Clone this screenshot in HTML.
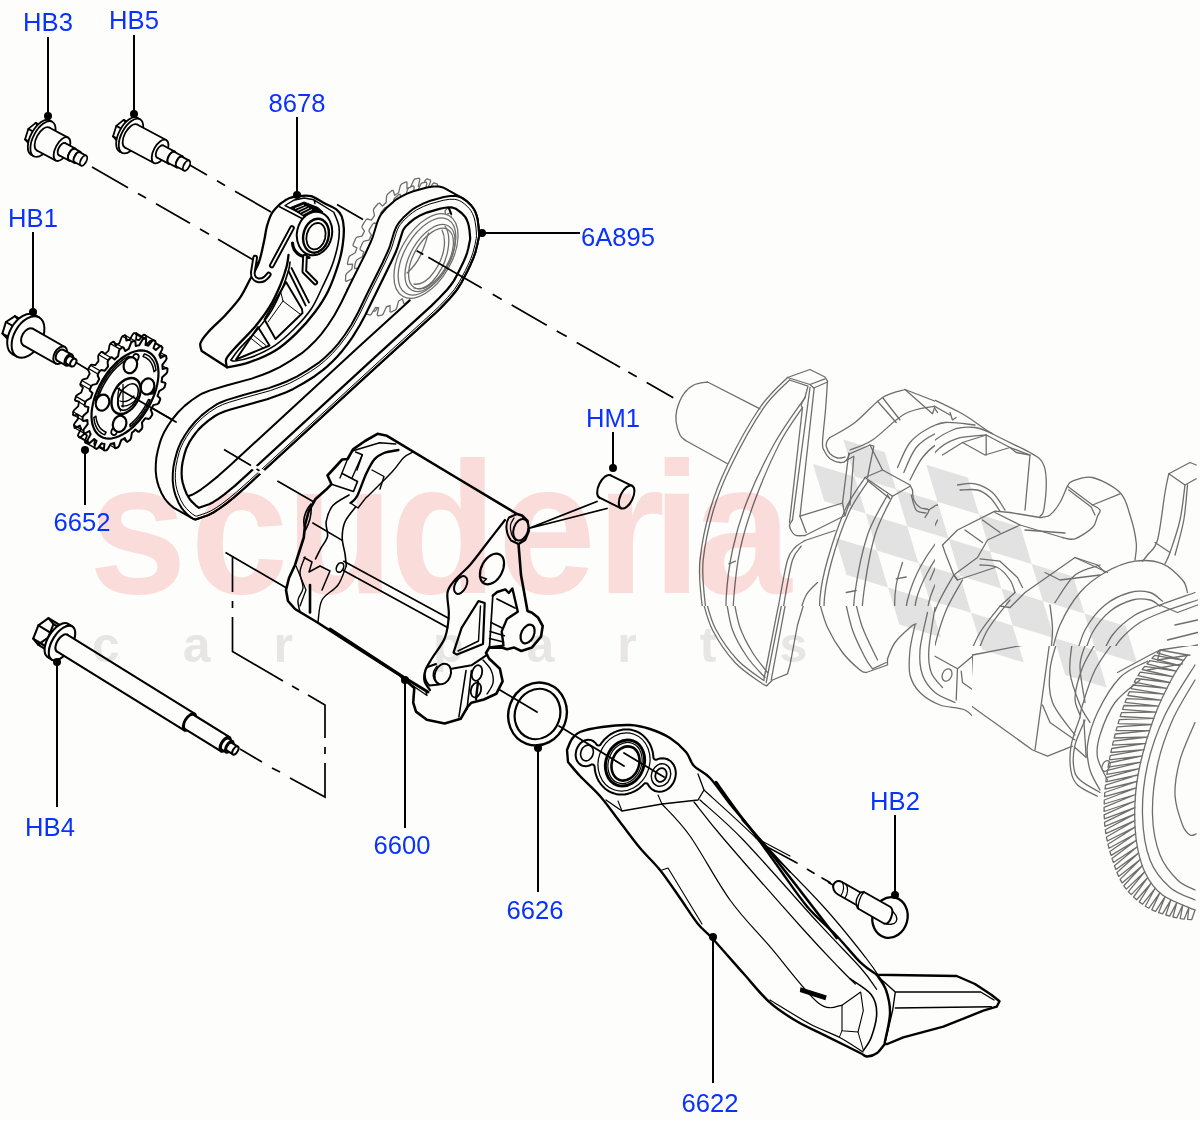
<!DOCTYPE html>
<html lang="en"><head><meta charset="utf-8"><title>Oil Pump</title>
<style>
html,body{margin:0;padding:0;background:#fdfdfb;}
body{width:1200px;height:1121px;overflow:hidden;position:relative;font-family:"Liberation Sans",Arial,sans-serif;}
svg{position:absolute;left:0;top:0;display:block;}
.lbl{font-family:"Liberation Sans",Arial,sans-serif;font-size:25.6px;fill:#0a32ff;text-anchor:middle;}
.k{fill:none;stroke:#000;stroke-linecap:round;stroke-linejoin:round;}
.kf{fill:#fdfdfb;stroke:#000;stroke-linecap:round;stroke-linejoin:round;}
.g{fill:none;stroke:#6e6e6e;stroke-width:1.3;stroke-linecap:round;stroke-linejoin:round;}
.gf{fill:#fdfdfb;stroke:#6e6e6e;stroke-width:1.3;stroke-linecap:round;stroke-linejoin:round;}
</style></head><body>
<svg width="1200" height="1121" viewBox="0 0 1200 1121">
<rect width="1200" height="1121" fill="#fdfdfb"/>
<!-- 05_flag.py -->
<g id="flag"><path d="M843.3 439.6L884.8 452.2L896 489.2L854.5 476.6ZM926.3 464.8L967.8 477.4L979 514.4L937.5 501.8ZM813 464L854.5 476.6L865.7 513.6L824.2 501ZM896 489.2L937.5 501.8L948.7 538.8L907.2 526.2ZM979 514.4L1020.5 527L1031.7 564L990.2 551.4ZM865.7 513.6L907.2 526.2L918.4 563.2L876.9 550.6ZM948.7 538.8L990.2 551.4L1001.4 588.4L959.9 575.8ZM1031.7 564L1073.2 576.6L1084.4 613.6L1042.9 601ZM835.4 538L876.9 550.6L888.1 587.6L846.6 575ZM918.4 563.2L959.9 575.8L971.1 612.8L929.6 600.2ZM1001.4 588.4L1042.9 601L1054.1 638L1012.6 625.4ZM1084.4 613.6L1125.9 626.2L1137.1 663.2L1095.6 650.6ZM888.1 587.6L929.6 600.2L940.8 637.2L899.3 624.6ZM971.1 612.8L1012.6 625.4L1023.8 662.4L982.3 649.8ZM1054.1 638L1095.6 650.6L1106.8 687.6L1065.3 675Z" fill="#e2e2e2" stroke="none"/></g>
<!-- 10_axes.py -->
<g id="axes" stroke="#000" stroke-width="1.7" fill="none" stroke-linecap="butt">
<path d="M92 167 L128 187.7 M138 193.4 L146 198 M156 203.7 L190 223.3 M200 229 L209 234.2 M218 239.3 L276.4 273.5"/>
<path d="M188 164 L207 175 M217 180.8 L225 185.4 M235 191.2 L271 212 M337 204.5 L363 219.5"/>
<path d="M72 360 L118 388 L176 422"/>
<path d="M225.5 552.5 L290 590 M232.5 557 L232.5 592 M232.5 601 L232.5 608 M232.5 617 L232.5 651.5 L283 681 M292 686 L299 690 M308 695 L325 705 L325 738 M325 747 L325 754 M325 763 L325 797 L290 778 M280 772 L272 768 M262 762 L240 749"/>
</g>
<!-- 15_topsprocket.py -->
<g id="topsprocket">
<path class="gf" d="M426.8 256.4 L425.5 258.9 L428 262.5 L427.7 264.3 L424.2 270 L422.8 271 L418.7 269.9 L417.1 272.2 L415.5 274.4 L416.6 279.7 L416 281.5 L411.8 286.5 L410.5 287 L407.5 283.9 L405.7 285.7 L403.9 287.5 L403.4 294 L402.5 295.8 L398 299.6 L396.8 299.5 L395.3 294.7 L393.4 296 L391.5 297.2 L389.6 304.4 L388.4 306 L383.9 308.2 L383 307.7 L383 301.5 L381.2 302.1 L379.5 302.7 L376.2 309.9 L374.8 311.2 L370.8 311.8 L370.2 310.7 L371.7 303.7 L370.1 303.6 L368.6 303.4 L364.3 310.2 L362.9 311.1 L359.6 309.9 L359.4 308.5 L362.3 301.2 L361.1 300.4 L360 299.5 L354.9 305.2 L353.6 305.6 L351.3 302.8 L351.5 301.1 L355.5 294.1 L354.8 292.7 L354.1 291.1 L348.7 295.4 L347.6 295.2 L346.5 291 L347.1 289.1 L352 283 L351.7 281.1 L351.6 279 L346.3 281.4 L345.5 280.7 L345.7 275.4 L346.6 273.6 L351.9 268.9 L352.2 266.5 L352.6 264.2 L347.8 264.5 L347.4 263.4 L348.8 257.4 L350 255.8 L355.3 252.8 L356.1 250.3 L357 247.8 L353.2 246 L353.1 244.5 L355.7 238.4 L357 237.1 L362 236.1 L363.2 233.6 L364.5 231.1 L362 227.5 L362.3 225.7 L365.8 220 L367.2 219 L371.3 220.1 L372.9 217.8 L374.5 215.6 L373.4 210.3 L374 208.5 L378.2 203.5 L379.5 203 L382.5 206.1 L384.3 204.3 L386.1 202.5 L386.6 196 L387.5 194.2 L392 190.4 L393.2 190.5 L394.7 195.3 L396.6 194 L398.5 192.8 L400.4 185.6 L401.6 184 L406.1 181.8 L407 182.3 L407 188.5 L408.8 187.9 L410.5 187.3 L413.8 180.1 L415.2 178.8 L419.2 178.2 L419.8 179.3 L418.3 186.3 L419.9 186.4 L421.4 186.6 L425.7 179.8 L427.1 178.9 L430.4 180.1 L430.6 181.5 L427.7 188.8 L428.9 189.6 L430 190.5 L435.1 184.8 L436.4 184.4 L438.7 187.2 L438.5 188.9 L434.5 195.9 L435.2 197.3 L435.9 198.9 L441.3 194.6 L442.4 194.8 L443.5 199 L442.9 200.9 L438 207 L438.3 208.9 L438.4 211 L443.7 208.6 L444.5 209.3 L444.3 214.6 L443.4 216.4 L438.1 221.1 L437.8 223.5 L437.4 225.8 L442.2 225.5 L442.6 226.6 L441.2 232.6 L440 234.2 L434.7 237.2 L433.9 239.7 L433 242.2 L436.8 244 L436.9 245.5 L434.3 251.6 L433 252.9 L428 253.9Z"/>
<path class="gf" d="M433.8 260.4 L432.5 262.9 L435 266.5 L434.7 268.3 L431.2 274 L429.8 275 L425.7 273.9 L424.1 276.2 L422.5 278.4 L423.6 283.7 L423 285.5 L418.8 290.5 L417.5 291 L414.5 287.9 L412.7 289.7 L410.9 291.5 L410.4 298 L409.5 299.8 L405 303.6 L403.8 303.5 L402.3 298.7 L400.4 300 L398.5 301.2 L396.6 308.4 L395.4 310 L390.9 312.2 L390 311.7 L390 305.5 L388.2 306.1 L386.5 306.7 L383.2 313.9 L381.8 315.2 L377.8 315.8 L377.2 314.7 L378.7 307.7 L377.1 307.6 L375.6 307.4 L371.3 314.2 L369.9 315.1 L366.6 313.9 L366.4 312.5 L369.3 305.2 L368.1 304.4 L367 303.5 L361.9 309.2 L360.6 309.6 L358.3 306.8 L358.5 305.1 L362.5 298.1 L361.8 296.7 L361.1 295.1 L355.7 299.4 L354.6 299.2 L353.5 295 L354.1 293.1 L359 287 L358.7 285.1 L358.6 283 L353.3 285.4 L352.5 284.7 L352.7 279.4 L353.6 277.6 L358.9 272.9 L359.2 270.5 L359.6 268.2 L354.8 268.5 L354.4 267.4 L355.8 261.4 L357 259.8 L362.3 256.8 L363.1 254.3 L364 251.8 L360.2 250 L360.1 248.5 L362.7 242.4 L364 241.1 L369 240.1 L370.2 237.6 L371.5 235.1 L369 231.5 L369.3 229.7 L372.8 224 L374.2 223 L378.3 224.1 L379.9 221.8 L381.5 219.6 L380.4 214.3 L381 212.5 L385.2 207.5 L386.5 207 L389.5 210.1 L391.3 208.3 L393.1 206.5 L393.6 200 L394.5 198.2 L399 194.4 L400.2 194.5 L401.7 199.3 L403.6 198 L405.5 196.8 L407.4 189.6 L408.6 188 L413.1 185.8 L414 186.3 L414 192.5 L415.8 191.9 L417.5 191.3 L420.8 184.1 L422.2 182.8 L426.2 182.2 L426.8 183.3 L425.3 190.3 L426.9 190.4 L428.4 190.6 L432.7 183.8 L434.1 182.9 L437.4 184.1 L437.6 185.5 L434.7 192.8 L435.9 193.6 L437 194.5 L442.1 188.8 L443.4 188.4 L445.7 191.2 L445.5 192.9 L441.5 199.9 L442.2 201.3 L442.9 202.9 L448.3 198.6 L449.4 198.8 L450.5 203 L449.9 204.9 L445 211 L445.3 212.9 L445.4 215 L450.7 212.6 L451.5 213.3 L451.3 218.6 L450.4 220.4 L445.1 225.1 L444.8 227.5 L444.4 229.8 L449.2 229.5 L449.6 230.6 L448.2 236.6 L447 238.2 L441.7 241.2 L440.9 243.7 L440 246.2 L443.8 248 L443.9 249.5 L441.3 255.6 L440 256.9 L435 257.9Z"/>
</g>
<!-- 20_crank.py -->
<g id="crank">
<defs><clipPath id="ckA"><rect x="0" y="0" width="935" height="606"/></clipPath><clipPath id="ckB"><rect x="935" y="0" width="265" height="646"/></clipPath><clipPath id="ckC"><rect x="0" y="606" width="972" height="600"/></clipPath><clipPath id="ckD"><rect x="972" y="646" width="228" height="600"/></clipPath></defs><g clip-path="url(#ckA)">
<path class="g" stroke-width="1.1" d="M707.5 382 L760 408.8" />
<path class="g" stroke-width="1.1" d="M707.5 382C705.2 382.5 697.7 383 693.8 385C689.8 387 686.6 389.6 683.8 393.8C680.9 397.9 678 405.2 676.8 410C675.5 414.8 675.7 418.3 676.2 422.5C676.8 426.7 678.5 432 680 435C681.5 438 684.6 439.6 685.5 440.5" />
<path class="g" stroke-width="1.1" d="M685.5 440.5 L727.5 463.8" />
<path class="g" stroke-width="1.1" d="M787.5 377.5C782.9 382.5 770 392.9 760 407.5C750 422.1 735.8 447.9 727.5 465C719.2 482.1 714.6 494.2 710 510C705.4 525.8 701.5 545.4 700 560C698.5 574.6 700 584.2 701.2 597.5C702.5 610.8 706.5 632.9 707.5 640" />
<path class="g" stroke-width="1.1" d="M789.5 380C785.1 384.8 772.8 394.4 763 408.8C753.2 423.1 739 449.2 730.8 466.2C722.5 483.2 717.8 495.1 713.2 510.8C708.7 526.4 704.7 545.5 703.2 560C701.8 574.5 703.2 584.2 704.5 597.5C705.8 610.8 709.7 632.9 710.8 640" />
<path class="g" stroke-width="1.1" d="M805 397.5C800 405 784.6 425.4 775 442.5C765.4 459.6 754.6 482.1 747.5 500C740.4 517.9 736 533.8 732.5 550C729 566.2 727.1 582.5 726.2 597.5C725.4 612.5 727.3 632.9 727.5 640" />
<path class="g" stroke-width="1.1" d="M802.5 407.5C798.8 413.3 787.9 427.1 780 442.5C772.1 457.9 761.7 482.1 755 500C748.3 517.9 743.5 533.8 740 550C736.5 566.2 735 582.5 733.8 597.5C732.5 612.5 732.7 632.9 732.5 640" />
<path class="g" stroke-width="1.1" d="M728.8 563.8 L735.5 561.2" />
<path class="g" stroke-width="1.1" d="M787.5 377.5 L810 369.5 L825 377 L827.5 381.2" />
<path class="g" stroke-width="1.1" d="M787.5 377.5 L810 384.5 L825 378.8" />
<path class="g" stroke-width="1.1" d="M789.5 380 L808 386.2 L805 397.5" />
<path class="g" stroke-width="1.1" d="M810 384.5 L813.8 388 L827.5 382" />
<path class="g" stroke-width="1.1" d="M805 397.5C804.4 398.8 801.7 403.3 801.2 405C800.8 406.7 802.3 407.1 802.5 407.5" />
<path class="g" stroke-width="1.1" d="M827.5 381.2C827.2 386 826.3 399.8 825.5 410C824.7 420.2 822.7 435.6 822.5 442.5C822.3 449.4 823.2 448.5 824.5 451.2C825.8 454 827.4 456.9 830 458.8C832.6 460.6 837.3 462.2 840 462.5C842.7 462.8 844.7 462 846.2 460.5C847.8 459 849 454.9 849.5 453.8" />
<path class="g" stroke-width="1.1" d="M830 437.5C829.5 438.1 827.6 439.8 827 441.2C826.4 442.7 825.8 444.2 826.2 446.2C826.8 448.3 828.1 451.8 830 453.8C831.9 455.7 835 457.5 837.5 458C840 458.5 843.8 457.2 845 457" />
<path class="g" stroke-width="1.1" d="M810 387.5 L792.5 520" />
<path class="g" stroke-width="1.1" d="M814.2 388 L800 516.2" />
<path class="g" stroke-width="1.1" d="M802.5 407.5 L789.5 522.5" />
<path class="g" stroke-width="1.1" d="M792.5 520C792 521 789.1 523.8 789.5 526.2C789.9 528.8 792.4 533.5 795 535C797.6 536.5 803.3 535.4 805 535.5" />
<path class="g" stroke-width="1.1" d="M805 535.5 L845 515.5" />
<path class="g" stroke-width="1.1" d="M800 516.2 L842.5 503 L848.8 453" />
<path class="g" stroke-width="1.1" d="M845 515.5 L842.5 503" />
<path class="g" stroke-width="1.1" d="M800 516.2 L806.2 532.5" />
<path class="g" stroke-width="1.1" d="M845 515.5 L850.5 500" />
<path class="g" stroke-width="1.1" d="M805 540.5 L835 530.5" />
<path class="g" stroke-width="1.1" d="M805 540.5C803.3 541.7 797.9 544.2 795 547.5C792.1 550.8 790 551.7 787.5 560C785 568.3 782.5 584.2 780 597.5C777.5 610.8 773.8 632.9 772.5 640" />
<path class="g" stroke-width="1.1" d="M801.2 546.2C799.8 548.5 795.2 551.5 792.5 560C789.8 568.5 787.3 584.2 785 597.5C782.7 610.8 779.8 632.9 778.8 640" />
<path class="g" stroke-width="1.1" d="M849.5 453.8 L870 445 L873.8 446.2 L867.5 477.5" />
<path class="g" stroke-width="1.1" d="M846.2 460.5 L853.8 456.2 L850 505" />
<path class="g" stroke-width="1.1" d="M865 477.5 L882.5 470 L910 485 L912.5 490" />
<path class="g" stroke-width="1.1" d="M865 477.5 L892.5 496.2 L910 486.2" />
<path class="g" stroke-width="1.1" d="M867.5 480.5 L890 498.8 L887.5 495" />
<path class="g" stroke-width="1.1" d="M865 477.5C861.7 482.9 851.2 496.2 845 510C838.8 523.8 831.7 545.4 827.5 560C823.3 574.6 821.2 584.2 820 597.5C818.8 610.8 820 632.9 820 640" />
<path class="g" stroke-width="1.1" d="M868 481.2C864.8 486.5 854.8 499.4 848.8 512.5C842.8 525.6 836 545.8 832 560C828 574.2 825.8 584.2 824.5 597.5C823.2 610.8 824.5 632.9 824.5 640" />
<path class="g" stroke-width="1.1" d="M887.5 495C884.2 501.7 872.9 518.8 867.5 535C862.1 551.2 857.5 575 855 592.5C852.5 610 852.9 632.1 852.5 640" />
<path class="g" stroke-width="1.1" d="M892.5 496.2C889.6 502.7 879.8 519 875 535C870.2 551 866.2 575 863.8 592.5C861.3 610 861 632.1 860.5 640" />
<path class="g" stroke-width="1.1" d="M846.2 592.5 L856.2 590.5" />
<path class="g" stroke-width="1.1" d="M817.5 582.5C815.6 584.6 809.2 589.6 806.2 595C803.3 600.4 801.2 607.5 800 615C798.8 622.5 799 635.8 798.8 640" />
<path class="g" stroke-width="1.1" d="M912.5 490C912.7 491.7 912.5 497.1 913.8 500C915 502.9 917.5 505.8 920 507.5C922.5 509.2 927.9 508.3 928.8 510C929.6 511.7 925.6 516.2 925 517.5" />
<path class="g" stroke-width="1.1" d="M911.2 495C912.1 497.5 913.8 507 916.2 510C918.8 513 924.6 512.5 926.2 513" />
<path class="g" stroke-width="1.1" d="M928.8 510 L940 502.5 L970 490" />
<path class="g" stroke-width="1.1" d="M830 437.5C834.2 435 846.2 429.2 855 422.5C863.8 415.8 874.2 403 882.5 397.5C890.8 392 901.2 390.8 905 389.5" />
<path class="g" stroke-width="1.1" d="M905 389.5 L945 405 L970 413.8" />
<path class="g" stroke-width="1.1" d="M850 450C853.8 448.3 863.3 446 872.5 440C881.7 434 894.6 419.4 905 413.8C915.4 408.1 930 407.5 935 406.2" />
<path class="g" stroke-width="1.1" d="M935 406.2 L970 420" />
<path class="g" stroke-width="1.1" d="M882.5 397.5 L900 420" />
<path class="g" stroke-width="1.1" d="M877.5 401.2 L896.2 422.5" />
<path class="g" stroke-width="1.1" d="M905 389.5 L932.5 413.8 L935 406.2" />
<path class="g" stroke-width="1.1" d="M870 445 L882.5 470" />
<path class="g" stroke-width="1.1" d="M897.5 467.5C899.6 463.3 904.6 449.2 910 442.5C915.4 435.8 922.9 431.2 930 427.5C937.1 423.8 945.8 421.5 952.5 420C959.2 418.5 967.1 419 970 418.8" />
<path class="g" stroke-width="1.1" d="M903.8 472.5C905.8 468.3 911 454 916.2 447.5C921.5 441 928.1 437.3 935 433.8C941.9 430.2 951.7 427.6 957.5 426.2C963.3 424.9 967.9 425.6 970 425.5" />
<path class="g" stroke-width="1.1" d="M910 480C912.1 476.2 917.5 463.8 922.5 457.5C927.5 451.2 932.1 446.2 940 442.5C947.9 438.8 965 436.2 970 435" />
<path class="g" stroke-width="1.1" d="M970 510C965.4 514.2 950.8 525.4 942.5 535C934.2 544.6 925.8 556.7 920 567.5C914.2 578.3 909.8 590.8 907.5 600C905.2 609.2 905.8 615.8 906.2 622.5C906.7 629.2 909.4 637.1 910 640" />
<path class="g" stroke-width="1.1" d="M970 520C966.2 523.8 954.6 533.8 947.5 542.5C940.4 551.2 932.7 562.9 927.5 572.5C922.3 582.1 918.3 591.2 916.2 600C914.2 608.8 914.4 618.3 915 625C915.6 631.7 919.2 637.5 920 640" />
<path class="g" stroke-width="1.1" d="M970 535C967.1 538.3 958.3 546.7 952.5 555C946.7 563.3 939.2 575.8 935 585C930.8 594.2 928.5 600.8 927.5 610C926.5 619.2 928.5 635 928.8 640" />
<path class="g" stroke-width="1.1" d="M902.5 562.5C901.5 566.2 897.5 577.1 896.2 585C895 592.9 894.2 602.5 895 610C895.8 617.5 900.2 626.7 901.2 630" />
<path class="g" stroke-width="1.1" d="M896.2 578.8 L906.2 577" />
<path class="g" stroke-width="1.1" d="M945 545 L970 522.5" />
<path class="g" stroke-width="1.1" d="M945 545 L930 580" />
<path class="g" stroke-width="1.1" d="M953.8 577.5 L970 565" />
</g><g clip-path="url(#ckB)">
<path class="g" stroke-width="1.1" d="M900 391.2C901.7 391 900 386 910 389.5C920 393 946.2 405.1 960 412.5C973.8 419.9 980.8 427.1 992.5 433.8C1004.2 440.4 1021.7 447.7 1030 452.5C1038.3 457.3 1039.8 457.9 1042.5 462.5C1045.2 467.1 1046 472.1 1046.2 480C1046.5 487.9 1044.8 504 1043.8 510C1042.7 516 1040.6 515.2 1040 516.2" />
<path class="g" stroke-width="1.1" d="M900 412.5 L932.5 405 L950 415" />
<path class="g" stroke-width="1.1" d="M925 395 L932.5 405 L937.5 412.5" />
<path class="g" stroke-width="1.1" d="M950 412.5 L952.5 420 L956.2 417.5" />
<path class="g" stroke-width="1.1" d="M900 462.5C901.7 459.2 905.8 447.9 910 442.5C914.2 437.1 919.2 433.3 925 430C930.8 426.7 936.7 423.3 945 422.5C953.3 421.7 970 424.6 975 425" />
<path class="g" stroke-width="1.1" d="M911.2 480C914 474.6 920.6 455.8 927.5 447.5C934.4 439.2 944.6 433.3 952.5 430C960.4 426.7 968.3 426.9 975 427.5C981.7 428.1 989.6 432.7 992.5 433.8" />
<path class="g" stroke-width="1.1" d="M921.2 477.5C923.5 473.3 929.2 459 935 452.5C940.8 446 947.7 441.7 956.2 438.8C964.8 435.8 981.2 435.6 986.2 435" />
<path class="g" stroke-width="1.1" d="M942.5 455 L962.5 442.5 L986.2 435 L1010 447.5 L1030 455 L1025 510" />
<path class="g" stroke-width="1.1" d="M962.5 442.5 L985 455 L1010 447.5" />
<path class="g" stroke-width="1.1" d="M986.2 435 L986.2 455" />
<path class="g" stroke-width="1.1" d="M1010 447.5 L1016.2 452.5 L1030 455" />
<path class="g" stroke-width="1.1" d="M957.5 485C960.4 484.8 969.2 482.5 975 483.8C980.8 485 987.5 488.1 992.5 492.5C997.5 496.9 1002.9 507.1 1005 510" />
<path class="g" stroke-width="1.1" d="M960 490C962.9 490 972.5 488.8 977.5 490C982.5 491.2 986.2 494 990 497.5C993.8 501 998.3 509 1000 511.2" />
<path class="g" stroke-width="1.1" d="M900 480C901.2 480.8 905.4 482.1 907.5 485C909.6 487.9 910 493.8 912.5 497.5C915 501.2 918.3 506.2 922.5 507.5C926.7 508.8 935 505.4 937.5 505" />
<path class="g" stroke-width="1.1" d="M900 487.5C901.7 490.4 905.8 500.8 910 505C914.2 509.2 922.5 511.2 925 512.5" />
<path class="g" stroke-width="1.1" d="M1040 517.5C1041.7 517.1 1046.7 517.5 1050 515C1053.3 512.5 1057.1 507.3 1060 502.5C1062.9 497.7 1065.4 489.8 1067.5 486.2C1069.6 482.7 1068.3 482.7 1072.5 481.2C1076.7 479.8 1084.6 475.6 1092.5 477.5C1100.4 479.4 1113.8 486.2 1120 492.5C1126.2 498.8 1127.3 506.7 1130 515C1132.7 523.3 1135.4 535 1136.2 542.5C1137.1 550 1135.2 557.1 1135 560" />
<path class="g" stroke-width="1.1" d="M1067.5 486.2 L1092.5 505 L1120 493.8" />
<path class="g" stroke-width="1.1" d="M1092.5 505C1093.8 505.8 1099.2 508.1 1100 510C1100.8 511.9 1098.8 513.3 1097.5 516.2C1096.2 519.2 1096.2 523.8 1092.5 527.5C1088.8 531.2 1080 537.1 1075 538.8C1070 540.4 1064.6 537.7 1062.5 537.5" />
<path class="g" stroke-width="1.1" d="M1068.8 490 L1091.2 507 L1095 515" />
<path class="g" stroke-width="1.1" d="M1040 517.5 L1010 512.5 L995 511.2 L957.5 530 L942.5 545" />
<path class="g" stroke-width="1.1" d="M1020 525 L1062.5 537.5" />
<path class="g" stroke-width="1.1" d="M1025 530 L1065 533" />
<path class="g" stroke-width="1.1" d="M995 512.5 L1020 525 L987.5 540 L977.5 557.5 L953.8 575 L957.5 580 L995 567.5" />
<path class="g" stroke-width="1.1" d="M942.5 545 L945 552.5 L953.8 575" />
<path class="g" stroke-width="1.1" d="M965 530 L982.5 542.5" />
<path class="g" stroke-width="1.1" d="M982.5 520 L1000 532.5" />
<path class="g" stroke-width="1.1" d="M1168.8 473.8 L1190 462.5 L1196.2 465" />
<path class="g" stroke-width="1.1" d="M1168.8 473.8 L1185 485 L1196.2 478.8" />
<path class="g" stroke-width="1.1" d="M1168.8 473.8C1168.1 476.9 1166.9 481.5 1165 492.5C1163.1 503.5 1160.4 529.6 1157.5 540C1154.6 550.4 1150 551.5 1147.5 555C1145 558.5 1143.3 560.2 1142.5 561.2" />
<path class="g" stroke-width="1.1" d="M1185 485C1184.2 490.8 1182.5 508.8 1180 520C1177.5 531.2 1172.5 545.2 1170 552.5C1167.5 559.8 1165.8 561.9 1165 563.8" />
<path class="g" stroke-width="1.1" d="M1155 542.5 L1170 552.5" />
<path class="g" stroke-width="1.1" d="M1187.5 485C1186.9 490.8 1185.8 508.3 1183.8 520C1181.7 531.7 1176.5 549.2 1175 555" />
<path class="g" stroke-width="1.1" d="M1050 660C1051.7 654.2 1055 636.2 1060 625C1065 613.8 1072.5 601.2 1080 592.5C1087.5 583.8 1095.8 577.7 1105 572.5C1114.2 567.3 1125.4 562.7 1135 561.2C1144.6 559.8 1154.6 560.6 1162.5 563.8C1170.4 566.9 1178.3 575.2 1182.5 580C1186.7 584.8 1186.7 590.4 1187.5 592.5" />
<path class="g" stroke-width="1.1" d="M1075 660C1076.7 655 1080 639.2 1085 630C1090 620.8 1097.5 611.2 1105 605C1112.5 598.8 1122.5 594.6 1130 592.5C1137.5 590.4 1144.6 591 1150 592.5C1155.4 594 1160.4 599.8 1162.5 601.2" />
<path class="g" stroke-width="1.1" d="M1082.5 660C1084.2 655.4 1087.9 640.6 1092.5 632.5C1097.1 624.4 1103.3 616.7 1110 611.2C1116.7 605.8 1125.8 601.9 1132.5 600C1139.2 598.1 1145.4 599 1150 600C1154.6 601 1158.3 605.2 1160 606.2" />
<path class="g" stroke-width="1.1" d="M1100 660C1102.1 655.8 1106.7 642.5 1112.5 635C1118.3 627.5 1127.1 620 1135 615C1142.9 610 1150 608.8 1160 605C1170 601.2 1189.2 594.6 1195 592.5" />
<path class="g" stroke-width="1.1" d="M1107.5 660C1109.6 656.7 1114.6 646.2 1120 640C1125.4 633.8 1132.5 627.3 1140 622.5C1147.5 617.7 1155.4 615 1165 611.2C1174.6 607.5 1192.1 601.9 1197.5 600" />
<path class="g" stroke-width="1.1" d="M1160 605 L1177.5 612.5 L1197.5 605" />
<path class="g" stroke-width="1.1" d="M1175 625 L1197.5 620" />
<path class="g" stroke-width="1.1" d="M1167.5 640 L1197.5 632.5" />
<path class="g" stroke-width="1.1" d="M1162.5 652.5 L1197.5 645" />
<path class="g" stroke-width="1.1" d="M925 515C922.5 521.7 913.3 542.1 910 555C906.7 567.9 904.2 582.1 905 592.5C905.8 602.9 913.3 613.3 915 617.5" />
<path class="g" stroke-width="1.1" d="M937.5 520C935 525.8 925.8 542.9 922.5 555C919.2 567.1 917.9 580 917.5 592.5C917.1 605 918.8 619.6 920 630C921.2 640.4 924.2 650.8 925 655" />
<path class="g" stroke-width="1.1" d="M953.8 575C951 580 942.3 593.8 937.5 605C932.7 616.2 927.3 633.3 925 642.5C922.7 651.7 924 657.1 923.8 660" />
<path class="g" stroke-width="1.1" d="M962.5 580C959.8 585 950.8 599.2 946.2 610C941.7 620.8 937.1 636.7 935 645C932.9 653.3 934 657.5 933.8 660" />
<path class="g" stroke-width="1.1" d="M1010 600C1006.2 605 993.3 620 987.5 630C981.7 640 977.1 655 975 660" />
<path class="g" stroke-width="1.1" d="M1000 606.2C996.7 610.6 985.4 623.5 980 632.5C974.6 641.5 969.6 655.4 967.5 660" />
<path class="g" stroke-width="1.1" d="M980 558.8 L1000 561.2 L1017.5 577.5 L1022.5 587.5" />
<path class="g" stroke-width="1.1" d="M980 565C982.9 565.4 992.5 565 997.5 567.5C1002.5 570 1007.1 575.8 1010 580C1012.9 584.2 1014.2 590.4 1015 592.5" />
<path class="g" stroke-width="1.1" d="M1015 592.5 L1000 606.2 L1010 607.5 L1025 592.5 L1075 557.5 L1107.5 572.5" />
<path class="g" stroke-width="1.1" d="M1045 572.5 L1060 580 L1100 575" />
<path class="g" stroke-width="1.1" d="M1075 557.5 L1097.5 565 L1105 572.5" />
<path class="g" stroke-width="1.1" d="M1050 605C1050.4 609.2 1052.5 620.8 1052.5 630C1052.5 639.2 1050.4 655 1050 660" />
<path class="g" stroke-width="1.1" d="M1055 602.5C1058.3 597.9 1067.5 581.2 1075 575C1082.5 568.8 1095.8 566.7 1100 565" />
<path class="g" stroke-width="1.1" d="M957.5 580 L953.8 575" />
</g><g clip-path="url(#ckC)">
<path class="g" stroke-width="1.1" d="M702.5 600C704.2 605 707.1 619.6 712.5 630C717.9 640.4 726.7 653.5 735 662.5C743.3 671.5 757.1 680 762.5 683.8C767.9 687.5 766.7 684.8 767.5 685" />
<path class="g" stroke-width="1.1" d="M705.8 600C707.4 604.8 710.2 618.8 715.5 628.8C720.8 638.8 729.5 651.4 737.5 660C745.5 668.6 759.4 677.1 763.8 680.5" />
<path class="g" stroke-width="1.1" d="M767.5 685 L772.5 680 L787.5 673.8 L790 665 L797.5 625 L805 600" />
<path class="g" stroke-width="1.1" d="M726.2 600C727.3 605 729 620.4 732.5 630C736 639.6 742.1 649.6 747.5 657.5C752.9 665.4 762.1 674.2 765 677.5" />
<path class="g" stroke-width="1.1" d="M733.8 600C734.8 604.6 736.9 618.8 740 627.5C743.1 636.2 747.9 645 752.5 652.5C757.1 660 765 669.2 767.5 672.5" />
<path class="g" stroke-width="1.1" d="M782.5 600 L766.2 682.5" />
<path class="g" stroke-width="1.1" d="M779.5 600 L763.8 680" />
<path class="g" stroke-width="1.1" d="M786.2 600 L771.2 680" />
<path class="g" stroke-width="1.1" d="M818.8 600C820.2 604.6 823.5 618.8 827.5 627.5C831.5 636.2 837.1 645.4 842.5 652.5C847.9 659.6 856 666.7 860 670C864 673.3 865.2 672.1 866.2 672.5" />
<path class="g" stroke-width="1.1" d="M866.2 672.5 L887.5 665 L887.5 658.8" />
<path class="g" stroke-width="1.1" d="M887.5 658.8C888.8 656 891.2 647.7 895 642.5C898.8 637.3 906.5 630.6 910 627.5C913.5 624.4 915.2 624.4 916.2 623.8" />
<path class="g" stroke-width="1.1" d="M845 600C846.2 605 849.2 620.4 852.5 630C855.8 639.6 861.7 651 865 657.5C868.3 664 871.2 666.9 872.5 668.8" />
<path class="g" stroke-width="1.1" d="M855 600C856.2 604.6 858.8 617.5 862.5 627.5C866.2 637.5 875 654.6 877.5 660" />
<path class="g" stroke-width="1.1" d="M872.5 668.8 L886.2 662.5" />
<path class="g" stroke-width="1.1" d="M915 625C914.2 629.2 910.8 641.7 910 650C909.2 658.3 908.3 667.9 910 675C911.7 682.1 915 687.5 920 692.5C925 697.5 932.5 702.1 940 705C947.5 707.9 958.3 706.7 965 710C971.7 713.3 977.5 722.5 980 725" />
<path class="g" stroke-width="1.1" d="M927.5 612.5C926.2 618.8 920.8 639.6 920 650C919.2 660.4 920 667.9 922.5 675C925 682.1 929.6 687.9 935 692.5C940.4 697.1 951.7 700.8 955 702.5" />
<path class="g" stroke-width="1.1" d="M935 607.5C934 614.6 929.4 639.2 928.8 650C928.1 660.8 929 666.2 931.2 672.5C933.5 678.8 940.6 685 942.5 687.5" />
<ellipse class="g" stroke-width="1.1" cx="947" cy="675" rx="4.6" ry="6.4" transform="rotate(25 947 675)" />
<path class="g" stroke-width="1.1" d="M935 656.2 L957.5 668.8 L956.2 700" />
<path class="g" stroke-width="1.1" d="M957.5 668.8 L980 650" />
<path class="g" stroke-width="1.1" d="M961.2 671.2 L962.5 682.5 L980 695" />
</g><g clip-path="url(#ckD)">
<path class="g" stroke-width="1.1" d="M1187.5 655C1185 658.8 1177.9 667.5 1172.5 677.5C1167.1 687.5 1160.4 700.4 1155 715C1149.6 729.6 1143.3 750.4 1140 765C1136.7 779.6 1135.6 790 1135 802.5C1134.4 815 1134.6 828.3 1136.2 840C1137.9 851.7 1140.6 863.3 1145 872.5C1149.4 881.7 1154.2 888.8 1162.5 895C1170.8 901.2 1189.6 907.5 1195 910" />
<path class="g" stroke-width="1.1" d="M1195 665C1190 673.3 1172.9 698.3 1165 715C1157.1 731.7 1151.2 748.3 1147.5 765C1143.8 781.7 1142.1 799.2 1142.5 815C1142.9 830.8 1145.4 847.9 1150 860C1154.6 872.1 1162.5 880.8 1170 887.5C1177.5 894.2 1190.8 897.9 1195 900" />
<path class="g" stroke-width="1.1" d="M1195 680C1191.2 686.7 1178.8 705.8 1172.5 720C1166.2 734.2 1160.8 749.2 1157.5 765C1154.2 780.8 1152.1 800 1152.5 815C1152.9 830 1155.8 844.2 1160 855C1164.2 865.8 1171.7 874.2 1177.5 880C1183.3 885.8 1192.1 888.3 1195 890" />
<path class="g" stroke-width="1.1" d="M1195 722.5C1192.5 728.8 1183.3 747.9 1180 760C1176.7 772.1 1174.6 784.2 1175 795C1175.4 805.8 1180 818.3 1182.5 825C1185 831.7 1187.7 833.5 1190 835C1192.3 836.5 1195.2 834 1196.2 833.8" />
<path class="g" stroke-width="1" d="M1187.5 655L1160 650L1157.2 652.9L1183.7 660.3M1183.7 660.3L1154.8 655.4L1152 658.3L1179.9 665.6M1179.9 665.6L1149.7 660.7L1147 663.8L1176.3 671.1M1176.3 671.1L1144.7 666.3L1142.2 669.5L1172.9 676.7M1172.9 676.7L1140.2 672.2L1138 675.7L1169.8 682.5M1169.8 682.5L1136.3 678.5L1134.3 682.1L1166.8 688.3M1166.8 688.3L1132.7 685L1130.9 688.7L1163.9 694.2M1163.9 694.2L1129.4 691.7L1127.8 695.5L1161.1 700.1M1161.1 700.1L1126.5 698.6L1125.1 702.4L1158.5 706.1M1158.5 706.1L1123.9 705.5L1122.6 709.4L1156.1 712.2M1156.1 712.2L1121.5 712.6L1120.2 716.5L1153.8 718.3M1153.8 718.3L1119.2 719.7L1118.1 723.6L1151.6 724.5M1151.6 724.5L1117.1 726.8L1116.1 730.7L1149.6 730.7M1149.6 730.7L1115.2 734L1114.2 738L1147.6 737M1147.6 737L1113.4 741.2L1112.5 745.2L1145.8 743.3M1145.8 743.3L1111.7 748.5L1110.9 752.5L1144 749.6M1144 749.6L1110.2 755.7L1109.4 759.8L1142.3 755.9M1142.3 755.9L1108.8 763L1108.1 767.1L1140.7 762.2M1140.7 762.2L1107.5 770.4L1106.9 774.4L1139.2 768.6M1139.2 768.6L1106.4 777.7L1105.9 781.8L1137.9 775M1137.9 775L1105.5 785.1L1105.1 789.2L1136.9 781.5M1136.9 781.5L1104.8 792.5L1104.5 796.6L1136.1 788M1136.1 788L1104.3 800L1104.2 804L1135.5 794.5M1135.5 794.5L1104.1 807.4L1104.1 811.5L1135.1 801M1135.1 801L1104.1 814.8L1104.4 818.9L1134.8 807.6M1134.8 807.6L1104.5 822.3L1104.9 826.3L1134.7 814.1M1134.7 814.1L1105.3 829.7L1105.9 833.7L1134.7 820.7M1134.7 820.7L1106.4 837L1107.3 841L1135 827.2M1135 827.2L1108 844.3L1109 848.3L1135.5 833.8M1135.5 833.8L1109.9 851.5L1111.1 855.4L1136.3 840.3M1136.3 840.3L1112 858.6L1113.4 862.5L1137.3 846.7M1137.3 846.7L1114.4 865.7L1115.9 869.5L1138.6 853.1M1138.6 853.1L1117 872.6L1118.7 876.4L1140.2 859.5M1140.2 859.5L1120.1 879.4L1122.1 882.9L1142.2 865.7M1142.2 865.7L1123.8 885.8L1126.3 889.1L1144.7 871.8M1144.7 871.8L1128.4 891.7L1131.3 894.6L1147.6 877.6M1147.6 877.6L1133.6 897L1136.7 899.7L1151.1 883.2M1151.1 883.2L1139.3 901.9L1142.6 904.2L1155.1 888.3M1155.1 888.3L1145.3 906.2L1148.9 908.2L1159.8 892.9M1159.8 892.9L1151.8 909.8L1155.6 911.4L1165.1 896.7M1165.1 896.7L1158.7 912.6L1162.6 913.9L1170.9 899.9M1170.9 899.9L1165.8 915L1169.7 916.1L1176.8 902.6M1176.8 902.6L1172.9 917L1176.9 917.8L1182.8 905.1M1182.8 905.1L1180.2 918.6L1184.3 919.1L1188.9 907.5M1188.9 907.5L1187.6 919.4L1191.7 919.7L1195 910" />
<path class="g" stroke-width="1.1" d="M1147.5 661.2C1142.9 664 1128.3 669 1120 677.5C1111.7 686 1102.9 701.2 1097.5 712.5C1092.1 723.8 1088.8 735.4 1087.5 745C1086.2 754.6 1087.9 762.5 1090 770C1092.1 777.5 1098.3 786.7 1100 790" />
<path class="g" stroke-width="1.1" d="M1140 680C1135.8 683.8 1121.7 693.3 1115 702.5C1108.3 711.7 1102.9 725.8 1100 735C1097.1 744.2 1096.2 750 1097.5 757.5C1098.8 765 1105.8 776.2 1107.5 780" />
<path class="g" stroke-width="1.1" d="M1085 720C1083.3 724.2 1076.9 737.1 1075 745C1073.1 752.9 1072.9 761.7 1073.8 767.5C1074.6 773.3 1075.6 775.8 1080 780C1084.4 784.2 1096.7 790.4 1100 792.5" />
<path class="g" stroke-width="1.1" d="M1080 717.5C1078.5 722.1 1072.8 736.2 1071.2 745C1069.7 753.8 1069.7 763.3 1070.8 770C1071.8 776.7 1073 780.6 1077.5 785C1082 789.4 1094.2 794.4 1097.5 796.2" />
<path class="g" stroke-width="1.1" d="M1075 747.5 L1086.2 757.5 L1083.8 720" />
<ellipse class="g" stroke-width="1.1" cx="1106" cy="766" rx="3.6" ry="5.6" transform="rotate(25 1106 766)" />
<path class="g" stroke-width="1.1" d="M1117.5 672.5 L1150 655 L1160 650 L1192.5 645" />
<path class="g" stroke-width="1.1" d="M1160 651.2 L1157.5 660 L1190 655" />
<path class="g" stroke-width="1.1" d="M1147.5 670 L1182.5 663.8" />
<path class="g" stroke-width="1.1" d="M1115 640C1111.7 645 1100.4 659.2 1095 670C1089.6 680.8 1085 697.1 1082.5 705C1080 712.9 1080.4 715.4 1080 717.5" />
<path class="g" stroke-width="1.1" d="M1097.5 640C1095 644.6 1086.2 657.9 1082.5 667.5C1078.8 677.1 1075.4 689.6 1075 697.5C1074.6 705.4 1079.2 712.1 1080 715" />
<path class="g" stroke-width="1.1" d="M965 662.5 L972.5 655 L970 705 L1032.5 750 L1047.5 756.2 L1072.5 746.2" />
<path class="g" stroke-width="1.1" d="M1050 640 L1035 750" />
<path class="g" stroke-width="1.1" d="M1042.5 705 L1050 722.5 L1075 740" />
<path class="g" stroke-width="1.1" d="M1057.5 640C1056.2 645 1050.8 659.6 1050 670C1049.2 680.4 1048.3 691.7 1052.5 702.5C1056.7 713.3 1071.2 729.6 1075 735" />
<path class="g" stroke-width="1.1" d="M1072.5 640C1072.1 645.4 1068.8 661.7 1070 672.5C1071.2 683.3 1076.7 696.7 1080 705C1083.3 713.3 1088.3 719.6 1090 722.5" />
<path class="g" stroke-width="1.1" d="M1087.5 640C1086.2 644.2 1080.4 654.6 1080 665C1079.6 675.4 1084.2 696.2 1085 702.5" />
<path class="g" stroke-width="1.1" d="M910 640C910.4 646.2 910 668.3 912.5 677.5C915 686.7 916.7 689.6 925 695C933.3 700.4 956.2 707.5 962.5 710" />
<path class="g" stroke-width="1.1" d="M921.2 640C921.7 645.4 921.5 664.6 923.8 672.5C926 680.4 929 683.3 935 687.5C941 691.7 955.8 695.8 960 697.5" />
<path class="g" stroke-width="1.1" d="M932.5 655 L952.5 665 L958.8 670 L960 690 L967.5 705" />
<path class="g" stroke-width="1.1" d="M972.5 655 L1050 640" />
<path class="g" stroke-width="1.1" d="M975 640C972.9 642.5 965.2 650 962.5 655C959.8 660 959.4 667.5 958.8 670" />
</g>
</g>
<!-- 30_chain.py -->
<g id="chain">
<defs><clipPath id="cpLin"><path d="M199 507.8 L209.1 504.3 L213.1 502.2 L218.3 498.8 L224.4 494.3 L235.1 485.6 L247.5 474.4 L377.2 355.1 L431.6 305.6 L439.5 297.8 L447.1 289.7 L450.9 285 L453.8 280.9 L457.7 273.8 L463.2 262.6 L465.5 257.3 L467.1 252.8 L468.3 248.2 L470 240.1 L470.2 238.4 L469.5 230.4 L468.8 226 L467.9 222.6 L466.7 219.6 L465.3 217.1 L461.6 213 L456.7 209.3 L455.2 208.5 L452.8 207.7 L450.2 207.4 L447.1 207.5 L443.5 208 L439.5 208.9 L426.7 212.6 L418.9 216.1 L415.3 218.2 L412.1 220.6 L408.3 223.9 L405.2 227.1 L403.4 229.6 L402.7 231.1 L397.8 246.6 L395.9 251.8 L391.8 260.8 L365.3 314.9 L359.9 325 L352.5 337.1 L347.5 344.1 L342.4 350.7 L337.6 356.2 L332.5 361.5 L327.3 366.4 L322.8 370.2 L314.7 376.2 L304.3 382.8 L293.3 388.9 L285.7 392.4 L278.3 395.3 L267.1 399.3 L231.4 409.2 L225 411.2 L219.6 413.4 L214.9 416 L208.4 420.7 L202.2 425.9 L198.7 429.4 L195.6 433.1 L192.4 437.5 L189.4 442.2 L186.4 448.2 L184.5 454.1 L182.5 462.5 L181.8 467.7 L181.6 473.3 L181.9 478.6 L182.6 482.3 L184.3 488.2 L186.5 493.7 L189.2 498.3 L191.3 501.1 L195.6 505.3Z"/></clipPath></defs>
<path d="M184.6 405.9 L177.9 412.5 L171.8 420 L167.9 425.7 L164.4 431.7 L161.8 437.3 L159.9 442.7 L157.8 450.5 L156.4 457.5 L155.8 464.1 L155.7 470.8 L156.4 477.5 L157.4 482.1 L158.8 486.6 L161.4 492.9 L164.5 498.3 L167 501.5 L170.1 504.7 L173.4 507.6 L193.5 519 L195.6 519.5 L208.3 515.1 L213.6 512.4 L219.5 508.5 L226.2 503.6 L233.6 497.7 L245.8 487 L360.2 381.8 L434.4 314.1 L440 308.7 L448.6 299.8 L456 291 L458 288.1 L461.5 282.5 L467.5 271 L470.5 264.7 L473.2 258.5 L475.3 252.7 L477.4 244.3 L479 236.6 L479.1 234.4 L478.6 226.9 L477.6 219.1 L476.4 214.7 L474.9 211 L472.9 207.6 L470.2 204.4 L466.7 201.1 L462.8 198.4 L444 187.9 L442.2 187.2 L438.8 186.5 L433.3 186.5 L426.8 187.5 L413.3 191.3 L406.5 193.9 L399.7 197.3 L395.2 200.2 L386.1 208.3 L381.7 213.5 L379.8 216.5 L378.2 219.9 L376.8 223.7 L373 236.3 L371.4 240.5 L365.5 253.5 L350 284.5 L341.2 302.7 L334.4 315.3 L327.7 325.5 L321.1 334.3 L314.4 341.8 L307.7 348.2 L301.5 353.4 L290.3 360.9 L279.8 367.1 L269.5 372 L262.6 374.7 L251.7 378.6 L226.4 385.5 L209.4 390.6 L203 393.2 L200.1 394.7 L192 400ZM448.2 207.5 L448.3 207.6 L449.7 210.1 L450.9 213.1 L451.8 216.5 L452.5 220.9 L453.2 228.9 L453 230.6 L451.3 238.7 L450.1 243.3 L448.5 247.8 L446.2 253.1 L440.7 264.3 L436.8 271.4 L433.9 275.5 L430.1 280.2 L422.5 288.3 L414.6 296.1 L360.2 345.6 L230.5 464.9 L218.1 476.1 L207.4 484.8 L201.3 489.3 L196.1 492.7 L192.1 494.8 L188 496.2 L186.5 493.7 L184.3 488.2 L182.6 482.3 L181.9 478.6 L181.6 473.3 L181.8 467.7 L182.5 462.5 L184.5 454.1 L186.4 448.2 L189.4 442.2 L192.4 437.5 L195.6 433.1 L198.7 429.4 L202.2 425.9 L208.4 420.7 L214.9 416 L219.6 413.4 L225 411.2 L231.4 409.2 L267.1 399.3 L278.3 395.3 L285.7 392.4 L293.3 388.9 L304.3 382.8 L314.7 376.2 L322.8 370.2 L327.3 366.4 L332.5 361.5 L337.6 356.2 L342.4 350.7 L347.5 344.1 L352.5 337.1 L359.9 325 L365.3 314.9 L391.8 260.8 L395.9 251.8 L397.8 246.6 L402.7 231.1 L403.4 229.6 L405.2 227.1 L408.3 223.9 L412.1 220.6 L415.3 218.2 L418.9 216.1 L426.7 212.6 L439.5 208.9 L443.5 208 L447.1 207.5Z" fill="#fdfdfb" fill-rule="evenodd" stroke="none"/>
<path class="k" stroke-width="2" d="M192 400 L184.6 405.9 L177.9 412.5 L171.8 420 L167.9 425.7 L164.4 431.7 L161.8 437.3 L159.9 442.7 L157.8 450.5 L156.4 457.5 L155.8 464.1 L155.7 470.8 L156.4 477.5 L157.4 482.1 L158.8 486.6 L161.4 492.9 L164.5 498.3 L167 501.5 L170.1 504.7 L173.4 507.6 L193.5 519 L195.6 519.5 L208.3 515.1 L213.6 512.4 L219.5 508.5 L226.2 503.6 L233.6 497.7 L245.8 487 L360.2 381.8 L434.4 314.1 L440 308.7 L448.6 299.8 L456 291 L458 288.1 L461.5 282.5 L467.5 271 L470.5 264.7 L473.2 258.5 L475.3 252.7 L477.4 244.3 L479 236.6 L479.1 234.4 L478.6 226.9 L477.6 219.1 L476.4 214.7 L474.9 211 L472.9 207.6 L470.2 204.4 L466.7 201.1 L462.8 198.4 L444 187.9 L442.2 187.2 L438.8 186.5 L433.3 186.5 L426.8 187.5 L413.3 191.3 L406.5 193.9 L399.7 197.3 L395.2 200.2 L386.1 208.3 L381.7 213.5 L379.8 216.5 L378.2 219.9 L376.8 223.7 L373 236.3 L371.4 240.5 L365.5 253.5 L350 284.5 L341.2 302.7 L334.4 315.3 L327.7 325.5 L321.1 334.3 L314.4 341.8 L307.7 348.2 L301.5 353.4 L290.3 360.9 L279.8 367.1 L269.5 372 L262.6 374.7 L251.7 378.6 L226.4 385.5 L209.4 390.6 L203 393.2 L200.1 394.7Z" />
<path class="k" stroke-width="2" d="M388.4 250 L390 245.8 L393.8 233.2 L395.2 229.4 L396.8 226 L398.7 223 L403.1 217.8 L410 211.5 L412.2 209.7 L416.7 206.8 L423.5 203.4 L430.3 200.8 L443.8 197 L450.3 196 L455.8 196 L459.2 196.7 L461 197.4 L462.8 198.4 L466.7 201.1 L470.2 204.4 L471.7 206 L472.9 207.6 L474.9 211 L476.4 214.7 L477.6 219.1 L478.6 226.9 L479.1 234.4 L479 236.6 L477.4 244.3 L475.3 252.7 L473.2 258.5 L470.5 264.7 L467.5 271 L461.5 282.5 L458 288.1 L456 291 L448.6 299.8 L440 308.7 L434.4 314.1 L360.2 381.8 L245.8 487 L233.6 497.7 L226.2 503.6 L219.5 508.5 L213.6 512.4 L208.3 515.1 L195.6 519.5 L193.5 519 L190.4 517.1 L187.1 514.2 L184 511 L181.5 507.8 L178.4 502.4 L175.8 496.1 L174.4 491.6 L173.4 487 L172.7 480.3 L172.8 473.6 L173.4 467 L174.8 460 L176.9 452.2 L178.8 446.8 L181.4 441.2 L184.9 435.2 L188.8 429.5 L194.9 422 L201.6 415.4 L209 409.5 L217.1 404.2 L220 402.7 L226.4 400.1 L243.4 395 L268.7 388.1 L279.6 384.2 L286.5 381.5 L296.8 376.6 L307.3 370.4 L318.5 362.9 L324.7 357.7 L331.4 351.3 L338.1 343.8 L344.7 335 L351.4 324.8 L358.2 312.2 L367 294 L382.5 263Z" />
<path class="k" stroke-width="1" d="M390.6 250.5 L384.5 263.8 L369 294.8 L360.2 313 L353.2 326 L346.3 336.5 L339.4 345.7 L332.4 353.5 L325.5 360.2 L319 365.6 L310.8 371.3 L300.4 377.6 L289.8 383.2 L282.7 386.1 L270.4 390.6 L242.9 398.2 L229.3 402.2 L222.8 404.5 L217.1 407.2 L209.4 412.2 L202.3 417.9 L196 424.1 L190.3 431.1 L186.6 436.6 L183.4 442.1 L181 447.2 L179.2 452.2 L177.3 459.6 L176 466.2 L175.4 472.4 L175.3 478.8 L175.9 485.1 L176.9 489.5 L178.3 493.9 L180.7 499.9 L183.7 505.1 L186.1 508.2 L189.1 511.2 L192.3 514 L195.1 515.8 L196.6 516.2 L206.3 512.9 L210.9 510.9 L216.2 507.7 L222.3 503.5 L229.2 498.2 L236.8 491.8 L249.5 480.5 L379.2 361.2 L433.6 311.6 L439.1 306.4 L447.5 297.6 L454.5 289.3 L459.6 281.4 L465.5 270.2 L468.4 264.1 L471 258.2 L472.9 252.7 L475 244.7 L476.2 238.5 L476.5 235.7 L476.1 228.6 L475 221.1 L473.9 217 L472.5 213.5 L470.7 210.4 L469.6 208.8 L464.8 204.1 L461.1 201.5 L459.3 200.6 L457.7 200 L454.6 199.3 L449.4 199.3 L443.2 200.3 L429.8 204 L423.3 206.5 L416.8 209.8 L412.7 212.5 L408.4 216 L404.1 220 L400.3 224.5 L398.7 227 L397.3 229.9 L396.1 233.3 L392.3 245.8Z" />
<path class="k" stroke-width="2.2" d="M199 507.8 L209.1 504.3 L213.1 502.2 L218.3 498.8 L224.4 494.3 L235.1 485.6 L247.5 474.4 L377.2 355.1 L431.6 305.6 L439.5 297.8 L447.1 289.7 L450.9 285 L453.8 280.9 L457.7 273.8 L463.2 262.6 L465.5 257.3 L467.1 252.8 L468.3 248.2 L470 240.1 L470.2 238.4 L469.5 230.4 L468.8 226 L467.9 222.6 L466.7 219.6 L465.3 217.1 L461.6 213 L456.7 209.3 L455.2 208.5 L452.8 207.7 L450.2 207.4 L447.1 207.5 L443.5 208 L439.5 208.9 L426.7 212.6 L418.9 216.1 L415.3 218.2 L412.1 220.6 L408.3 223.9 L405.2 227.1 L403.4 229.6 L402.7 231.1 L397.8 246.6 L395.9 251.8 L391.8 260.8 L365.3 314.9 L359.9 325 L352.5 337.1 L347.5 344.1 L342.4 350.7 L337.6 356.2 L332.5 361.5 L327.3 366.4 L322.8 370.2 L314.7 376.2 L304.3 382.8 L293.3 388.9 L285.7 392.4 L278.3 395.3 L267.1 399.3 L231.4 409.2 L225 411.2 L219.6 413.4 L214.9 416 L208.4 420.7 L202.2 425.9 L198.7 429.4 L195.6 433.1 L192.4 437.5 L189.4 442.2 L186.4 448.2 L184.5 454.1 L182.5 462.5 L181.8 467.7 L181.6 473.3 L181.9 478.6 L182.6 482.3 L184.3 488.2 L186.5 493.7 L189.2 498.3 L191.3 501.1 L195.6 505.3Z" />
<path class="k" stroke-width="2" d="M188 496.2 L192.1 494.8 L196.1 492.7 L201.3 489.3 L207.4 484.8 L218.1 476.1 L230.5 464.9 L360.2 345.6 L409.7 300.5M451.2 214 L450.9 213.1 L449.7 210.1 L448.3 207.6 L448.2 207.5" />
</g>
<!-- 35_hub.py -->
<g id="hub" clip-path="url(#cpLin)">
<ellipse class="gf" stroke-width="3" cx="426" cy="256" rx="25.5" ry="46.5" transform="rotate(30 426 256)" />
<ellipse class="g" stroke-width="1.3" cx="427" cy="256.5" rx="22.5" ry="42.5" transform="rotate(30 427 256.5)" />
<ellipse class="g" stroke-width="2" cx="430" cy="258" rx="19.5" ry="37" transform="rotate(30 430 258)" />
<ellipse class="g" stroke-width="1.3" cx="431" cy="258.5" rx="17.2" ry="33.5" transform="rotate(30 431 258.5)" />
<path class="g" stroke-width="1.6" d="M428.5 233 C424 248 420 262 407 273" />
<path class="g" stroke-width="1.3" d="M445 226 C452 236 450 262 432 282 C426 288 420 290 414 288" />
<path class="g" stroke-width="1" d="M442 230 C447 240 445 260 430 277 C424 283 419 285 414 284" />
</g>
<path d="M416.7 250.7 L423.3 254.5 M428.3 257.3 L481.7 287.9 M492.7 294.2 L501.7 299.4 M511.7 305.1 L546.7 325.2 M556.7 330.9 L566.7 336.6 M576.7 342.4 L620 367.2 M628.3 371.9 L636.7 376.7 M646.7 382.5 L673.3 397.7" stroke="#000" stroke-width="1.7" fill="none"/>
<path d="M252 466 L264 473" stroke="#fdfdfb" stroke-width="5" fill="none"/><path d="M224 449.5 L251 465.5 M256.5 469 L259.5 470.8 M277.4 481 L313 501.6" stroke="#000" stroke-width="1.7" fill="none"/>
<!-- 40_tensioner.py -->
<g id="tensioner">
<path class="kf" stroke-width="2.3" d="M280 204C281.5 203.1 285.7 199.6 289 198.3C292.3 197 296.3 196.3 300 196C303.7 195.7 307 195 311 196.2C315 197.4 319.8 200.8 324 203C328.2 205.2 333.4 207.2 336.3 209.4C339.2 211.6 340.4 213.3 341.7 216.4C342.9 219.5 343.6 223.4 343.8 228C344 232.6 343.6 238.5 342.8 244.2C342 249.9 341.4 254.2 339 262C336.6 269.8 332.3 282.4 328.3 290.7C324.3 299 320.3 304.9 315 312C309.7 319.1 303 326.9 296.3 333.3C289.6 339.8 283 345.8 275 350.7C267 355.6 256.3 359.9 248.3 362.7C240.3 365.5 230.6 366.5 227 367.3 L201.7 351C201.5 349.7 199.4 346.2 200.5 343C201.6 339.8 204.1 336.7 208.3 332C212.5 327.3 220.4 320.5 225.7 314.7C231 308.9 236.3 303.1 240.3 297.3C244.3 291.5 246.6 285.9 249.7 280C252.8 274.1 256.6 268.7 259 262C261.4 255.3 263 246 264.3 240C265.6 234 265.7 230.5 267 226C268.3 221.5 269.8 216.7 272 213C274.2 209.3 278.7 205.5 280 204Z"/>
<path class="k" stroke-width="2.3" d="M227 367.3C226.9 365.9 225 362.2 226.3 359C227.6 355.8 230.2 353.4 235 348C239.8 342.6 249.2 333.6 255 326.7C260.8 319.8 265.5 313.6 269.7 306.7C273.9 299.8 277.5 291.9 280.3 285.3C283.1 278.7 285.1 272.1 286.5 267C287.9 261.9 288.2 257 288.5 255" />
<path class="k" stroke-width="1.6" d="M334.2 213.2C335 215.5 338.4 221.8 339 227C339.6 232.2 339.2 237.8 338 244.2C336.8 250.6 334.6 258.5 332 265.6C329.4 272.7 325.9 279.7 322.4 287C318.9 294.3 315.8 302.2 311 309.3C306.2 316.4 299.7 323.3 293.7 329.3C287.7 335.3 282.1 340.6 275 345.3C267.9 350 257.7 354.7 251 357.3C244.3 359.9 238.3 360.6 235 361C231.7 361.4 231.7 360.2 231 360" />
<path class="k" stroke-width="1.6" d="M231 360C232.3 358.2 234.6 354.4 239 349.3C243.4 344.2 252.1 336 257.7 329.3C263.2 322.6 268.1 316.4 272.3 309.3C276.5 302.2 280.3 293.1 283 286.7C285.7 280.3 287.3 274.8 288.5 270.7C289.7 266.6 289.8 263.4 290 262" />
<path class="k" stroke-width="1.8" d="M288.5 271 L305.7 305.5 M291.5 268 L309 302.5" />
<path class="k" stroke-width="1.9" d="M286 282 L302 309 L302.5 313 L275.5 339 L264.5 319.5 Z" />
<path class="k" stroke-width="1" d="M281 293 L283 301 L300 314 M283 301 L268 322" />
<path class="k" stroke-width="1.9" d="M258 327 L269.5 345.5 L236 359.5 Z" />
<path class="k" stroke-width="1" d="M252.5 334.5 L266 345.5 M250 337.5 L263 348" />
<path class="k" stroke-width="1.6" d="M279.6 206.8 L302 218.5" />
<path class="k" stroke-width="1.4" d="M285 205.5 L293.5 200.3 L304.2 198 L313.9 199.8 L334.2 212.5 M313.9 199.8 L315 203.5 M285 205.5 L298 212" />
<path d="M290.5 207.5 L304 202 L318 207.5 L323 212 L314 211.5 L304.5 217 Z" fill="#000" stroke="#000" stroke-width="1"/>
<path d="M295 208.5 L304 205 M297.5 210.5 L306.5 206.5 M300 212.5 L309 208 M302.5 214.3 L312 209.5" stroke="#fdfdfb" stroke-width="0.9" fill="none"/>
<ellipse class="kf" stroke-width="2" cx="314.5" cy="233.5" rx="17.5" ry="22" transform="rotate(12 314.5 233.5)" />
<ellipse class="kf" stroke-width="2.4" cx="316" cy="235.7" rx="12.6" ry="17.2" transform="rotate(14 316 235.7)" />
<ellipse class="kf" stroke-width="1.8" cx="316" cy="236.2" rx="9.4" ry="13.4" transform="rotate(14 316 236.2)" />
<path class="k" stroke-width="3.2" d="M292.5 243 C293 252 300 257 309 257.5" />
<path d="M305 256.5 L304.3 271.5 L315.3 282.5" fill="none" stroke="#000" stroke-width="5.6" stroke-linecap="round" stroke-linejoin="round"/><path d="M305 256.5 L304.3 271.5 L315.3 282.5" fill="none" stroke="#fdfdfb" stroke-width="1.7" stroke-linecap="round" stroke-linejoin="round"/>
<path d="M292 228 L271.8 265.5" fill="none" stroke="#000" stroke-width="5.6" stroke-linecap="round" stroke-linejoin="round"/><path d="M292 228 L271.8 265.5" fill="none" stroke="#fdfdfb" stroke-width="1.7" stroke-linecap="round" stroke-linejoin="round"/>
<path d="M255.2 257.5 L252.8 272.5 C252.5 281 262 284 268.8 274.5" fill="none" stroke="#000" stroke-width="5.6" stroke-linecap="round" stroke-linejoin="round"/><path d="M255.2 257.5 L252.8 272.5 C252.5 281 262 284 268.8 274.5" fill="none" stroke="#fdfdfb" stroke-width="1.7" stroke-linecap="round" stroke-linejoin="round"/>
</g>
<!-- 45_sprocket.py -->
<g id="sprocket6652">
<path class="kf" stroke-width="1.8" d="M142.6 402 L141.3 404.3 L142.8 408 L142.6 409.5 L140.5 412.7 L139.2 413.4 L135.7 412.8 L134.1 414.9 L132.5 416.9 L132.9 421.7 L132.3 423.3 L129.8 426 L128.6 426.2 L125.9 424.1 L124.2 425.7 L122.4 427.3 L121.5 432.7 L120.6 434.4 L118 436.3 L117 436.1 L115.3 432.5 L113.5 433.6 L111.7 434.6 L109.6 440.3 L108.6 441.7 L105.9 442.8 L105.2 442.1 L104.7 437.4 L103 437.9 L101.3 438.2 L98.3 443.6 L97 444.8 L94.7 444.9 L94.3 443.8 L95 438.4 L93.5 438.2 L92.1 437.8 L88.3 442.6 L87 443.4 L85.1 442.4 L85 441 L87 435.4 L85.8 434.5 L84.7 433.5 L80.5 437.2 L79.3 437.5 L78 435.7 L78.3 434.1 L81.2 428.6 L80.5 427.1 L79.9 425.5 L75.6 427.9 L74.5 427.8 L73.9 425.1 L74.5 423.5 L78.2 418.6 L78 416.6 L77.9 414.6 L73.9 415.4 L73 414.8 L73.2 411.7 L74.1 410.1 L78.3 406.2 L78.6 403.9 L79 401.6 L75.5 400.8 L75 399.8 L75.9 396.4 L77 395 L81.3 392.4 L82.1 390 L83 387.6 L80.4 385.3 L80.3 384 L81.8 380.5 L83.1 379.4 L87.2 378.4 L88.4 376 L89.7 373.7 L88.2 370 L88.4 368.5 L90.5 365.3 L91.8 364.6 L95.3 365.2 L96.9 363.1 L98.5 361.1 L98.1 356.3 L98.7 354.7 L101.2 352 L102.4 351.8 L105.1 353.9 L106.8 352.3 L108.6 350.7 L109.5 345.3 L110.4 343.6 L113 341.7 L114 341.9 L115.7 345.5 L117.5 344.4 L119.3 343.4 L121.4 337.7 L122.4 336.3 L125.1 335.2 L125.8 335.9 L126.3 340.6 L128 340.1 L129.7 339.8 L132.7 334.4 L134 333.2 L136.3 333.1 L136.7 334.2 L136 339.6 L137.5 339.8 L138.9 340.2 L142.7 335.4 L144 334.6 L145.9 335.6 L146 337 L144 342.6 L145.2 343.5 L146.3 344.5 L150.5 340.8 L151.7 340.5 L153 342.3 L152.7 343.9 L149.8 349.4 L150.5 350.9 L151.1 352.5 L155.4 350.1 L156.5 350.2 L157.1 352.9 L156.5 354.5 L152.8 359.4 L153 361.4 L153.1 363.4 L157.1 362.6 L158 363.2 L157.8 366.3 L156.9 367.9 L152.7 371.8 L152.4 374.1 L152 376.4 L155.5 377.2 L156 378.2 L155.1 381.6 L154 383 L149.7 385.6 L148.9 388 L148 390.4 L150.6 392.7 L150.7 394 L149.2 397.5 L147.9 398.6 L143.8 399.6Z"/>
<path class="k" stroke-width="1.3" d="M152.1 415L142.6 409.5M150 418.2L140.5 412.7M141.8 428.8L132.3 423.3M139.3 431.5L129.8 426M130.1 439.9L120.6 434.4M127.5 441.8L118 436.3M118.1 447.2L108.6 441.7M115.4 448.3L105.9 442.8M106.5 450.3L97 444.8M104.2 450.4L94.7 444.9M96.5 448.9L87 443.4M94.6 447.9L85.1 442.4M88.8 443L79.3 437.5M87.5 441.2L78 435.7M84 433.3L74.5 427.8M83.4 430.6L73.9 425.1M82.5 420.3L73 414.8M82.7 417.2L73.2 411.7M84.5 405.3L75 399.8M85.4 401.9L75.9 396.4M89.8 389.5L80.3 384M91.3 386L81.8 380.5M97.9 374L88.4 368.5M100 370.8L90.5 365.3M108.2 360.2L98.7 354.7M110.7 357.5L101.2 352M119.9 349.1L110.4 343.6M122.5 347.2L113 341.7M131.9 341.8L122.4 336.3M134.6 340.7L125.1 335.2M143.5 338.7L134 333.2M145.8 338.6L136.3 333.1M153.5 340.1L144 334.6M155.4 341.1L145.9 335.6M161.2 346L151.7 340.5M162.5 347.8L153 342.3M166 355.7L156.5 350.2M166.6 358.4L157.1 352.9M167.5 368.7L158 363.2M167.3 371.8L157.8 366.3M165.5 383.7L156 378.2M164.6 387.1L155.1 381.6M160.2 399.5L150.7 394M158.7 403L149.2 397.5" />
<path class="kf" stroke-width="2" d="M152.1 407.5 L150.8 409.8 L152.3 413.5 L152.1 415 L150 418.2 L148.7 418.9 L145.2 418.3 L143.6 420.4 L142 422.4 L142.4 427.2 L141.8 428.8 L139.3 431.5 L138.1 431.7 L135.4 429.6 L133.7 431.2 L131.9 432.8 L131 438.2 L130.1 439.9 L127.5 441.8 L126.5 441.6 L124.8 438 L123 439.1 L121.2 440.1 L119.1 445.8 L118.1 447.2 L115.4 448.3 L114.7 447.6 L114.2 442.9 L112.5 443.4 L110.8 443.7 L107.8 449.1 L106.5 450.3 L104.2 450.4 L103.8 449.3 L104.5 443.9 L103 443.7 L101.6 443.3 L97.8 448.1 L96.5 448.9 L94.6 447.9 L94.5 446.5 L96.5 440.9 L95.3 440 L94.2 439 L90 442.7 L88.8 443 L87.5 441.2 L87.8 439.6 L90.7 434.1 L90 432.6 L89.4 431 L85.1 433.4 L84 433.3 L83.4 430.6 L84 429 L87.7 424.1 L87.5 422.1 L87.4 420.1 L83.4 420.9 L82.5 420.3 L82.7 417.2 L83.6 415.6 L87.8 411.7 L88.1 409.4 L88.5 407.1 L85 406.3 L84.5 405.3 L85.4 401.9 L86.5 400.5 L90.8 397.9 L91.6 395.5 L92.5 393.1 L89.9 390.8 L89.8 389.5 L91.3 386 L92.6 384.9 L96.7 383.9 L97.9 381.5 L99.2 379.2 L97.7 375.5 L97.9 374 L100 370.8 L101.3 370.1 L104.8 370.7 L106.4 368.6 L108 366.6 L107.6 361.8 L108.2 360.2 L110.7 357.5 L111.9 357.3 L114.6 359.4 L116.3 357.8 L118.1 356.2 L119 350.8 L119.9 349.1 L122.5 347.2 L123.5 347.4 L125.2 351 L127 349.9 L128.8 348.9 L130.9 343.2 L131.9 341.8 L134.6 340.7 L135.3 341.4 L135.8 346.1 L137.5 345.6 L139.2 345.3 L142.2 339.9 L143.5 338.7 L145.8 338.6 L146.2 339.7 L145.5 345.1 L147 345.3 L148.4 345.7 L152.2 340.9 L153.5 340.1 L155.4 341.1 L155.5 342.5 L153.5 348.1 L154.7 349 L155.8 350 L160 346.3 L161.2 346 L162.5 347.8 L162.2 349.4 L159.3 354.9 L160 356.4 L160.6 358 L164.9 355.6 L166 355.7 L166.6 358.4 L166 360 L162.3 364.9 L162.5 366.9 L162.6 368.9 L166.6 368.1 L167.5 368.7 L167.3 371.8 L166.4 373.4 L162.2 377.3 L161.9 379.6 L161.5 381.9 L165 382.7 L165.5 383.7 L164.6 387.1 L163.5 388.5 L159.2 391.1 L158.4 393.5 L157.5 395.9 L160.1 398.2 L160.2 399.5 L158.7 403 L157.4 404.1 L153.3 405.1Z"/>
<path class="k" stroke-width="2.2" d="M148.1 407.8 L145.4 412.2 L142.6 416.3 L139.5 420.2 L136.2 423.8 L132.9 427.1 L129.4 430 L125.9 432.5 L122.4 434.6 L119 436.3 L115.5 437.5 L112.2 438.3 L109.1 438.6 L106.1 438.4 L103.3 437.7 L100.8 436.5 L98.5 434.9 L96.5 432.8 L94.8 430.3 L93.5 427.4 L92.4 424.2 L91.8 420.6 L91.5 416.8 L91.6 412.7 L92.1 408.4 L92.9 404 L94 399.4 L95.5 394.8 L97.4 390.2 L99.5 385.6 L101.9 381.2 L104.6 376.8 L107.4 372.7 L110.5 368.8 L113.8 365.2 L117.1 361.9 L120.6 359 L124.1 356.5 L127.6 354.4 L131 352.7 L134.5 351.5 L137.8 350.7 L140.9 350.4 L143.9 350.6 L146.7 351.3 L149.2 352.5 L151.5 354.1 L153.5 356.2 L155.2 358.7 L156.5 361.6 L157.6 364.8 L158.2 368.4 L158.5 372.2 L158.4 376.3 L157.9 380.6 L157.1 385 L156 389.6 L154.5 394.2 L152.6 398.8 L150.5 403.4Z" />
<path class="k" stroke-width="1.5" d="M97.7 394.1 L98.9 391.2 L100.1 388.3 L101.5 385.5 L103 382.7 L104.6 380 L106.3 377.4 L108.1 374.8 L110 372.3 L112 369.9 L114 367.7 L116.1 365.6 L118.2 363.6 L120.3 361.8 L122.5 360.1 L124.7 358.6 L126.8 357.3 L129 356.2 L128.8 358.7 L126.7 359.8 L124.7 361 L122.7 362.4 L120.6 364 L118.6 365.7 L116.6 367.5 L114.7 369.5 L112.8 371.6 L111 373.8 L109.3 376.1 L107.6 378.5 L106 381 L104.5 383.5 L103.1 386.1 L101.8 388.7 L100.6 391.4 L99.5 394.1Z" />
<path class="k" stroke-width="1.5" d="M104.7 434.8 L103.1 434.1 L101.6 433.3 L100.2 432.2 L98.9 431 L97.8 429.6 L96.8 428 L95.9 426.2 L95.2 424.3 L94.6 422.2 L94.2 420.1 L93.9 417.7 L95.9 416.2 L96.2 418.4 L96.6 420.4 L97.2 422.3 L97.8 424.1 L98.7 425.7 L99.6 427.2 L100.7 428.6 L101.9 429.7 L103.2 430.7 L104.6 431.5 L106.1 432.1Z" />
<path class="k" stroke-width="1.5" d="M144.4 353.9 L146.1 354.5 L147.7 355.3 L149.1 356.2 L150.4 357.4 L151.6 358.7 L152.7 360.2 L153.7 361.9 L154.5 363.7 L155.1 365.7 L155.6 367.8 L156 370.1 L154 371.7 L153.6 369.6 L153.1 367.6 L152.5 365.8 L151.8 364.1 L150.9 362.5 L149.9 361.1 L148.7 359.8 L147.5 358.8 L146.2 357.9 L144.7 357.1 L143.1 356.6Z" />
<path class="k" stroke-width="1.5" d="M150.2 400 L148.8 402.8 L147.4 405.6 L145.8 408.3 L144.1 411 L142.3 413.6 L140.5 416.1 L138.5 418.5 L136.5 420.7 L134.5 422.9 L132.4 424.9 L130.2 426.8 L129.9 424.6 L131.9 422.9 L133.8 421 L135.8 419 L137.6 416.9 L139.4 414.6 L141.2 412.3 L142.8 409.9 L144.4 407.4 L145.9 404.8 L147.2 402.2 L148.5 399.6Z" />
<ellipse class="kf" stroke-width="1.7" cx="114.2" cy="431.5" rx="2.8" ry="3.6" transform="rotate(20 114.2 431.5)" />
<ellipse class="kf" stroke-width="2.2" cx="119.6" cy="423.8" rx="6.6" ry="8.2" transform="rotate(20 119.6 423.8)" />
<ellipse class="kf" stroke-width="1.7" cx="98.8" cy="398.6" rx="2.8" ry="3.6" transform="rotate(20 98.8 398.6)" />
<ellipse class="kf" stroke-width="2.2" cx="102.5" cy="402.6" rx="6.6" ry="8.2" transform="rotate(20 102.5 402.6)" />
<ellipse class="kf" stroke-width="1.7" cx="135.8" cy="357.5" rx="2.8" ry="3.6" transform="rotate(20 135.8 357.5)" />
<ellipse class="kf" stroke-width="2.2" cx="130.4" cy="365.2" rx="6.6" ry="8.2" transform="rotate(20 130.4 365.2)" />
<ellipse class="kf" stroke-width="1.7" cx="151.2" cy="390.4" rx="2.8" ry="3.6" transform="rotate(20 151.2 390.4)" />
<ellipse class="kf" stroke-width="2.2" cx="147.5" cy="386.4" rx="6.6" ry="8.2" transform="rotate(20 147.5 386.4)" />
<ellipse class="kf" stroke-width="2.4" cx="126" cy="396" rx="12.5" ry="19.5" transform="rotate(30 126 396)" />
<ellipse class="k" stroke-width="1.6" cx="128" cy="397" rx="8.5" ry="14.5" transform="rotate(30 128 397)" />
<path class="k" stroke-width="1.3" d="M119.5 388 C117 394 117 404 120.5 411 M123 384.5 L123 407 M120 401 C125 402.5 130 400.5 134 396 M121.5 406 C128 407 134 402.5 137 398" />
<path class="k" stroke-width="1.8" d="M118 388.5 L176 422" />
</g>

<!-- 50_pump.py -->
<g id="pump">
<path class="kf" stroke-width="2.6" d="M377.5 433.8 L387 435.8 L452 475 L517 514 L522 515.5 L527.5 521 L528.7 531 L525 540 L518.5 544 L521 575 L527.5 611 L532 612.7 L538 617.5 L542.7 626 L541 636.7 L532 647.4 L521.3 651 L514.2 647.6 L507 649.2 L501.7 647.6 L489.2 647.6 L486 653 L489 658.5 L499.9 668.8 L502.6 681.3 L496.3 693.8 L483.9 699.5 L471.4 702.7 L467.5 707 L460.7 718.8 L444.6 723.4 L426.8 719.7 L416 711.6 L413.2 702.7 L414.3 688 L400 675.5 L360 650 L317.5 622.5 L295 609 L288 601 L286 590 L289 578 L295 565 L303.8 537.5 L305 525 L308.8 511 L315.5 499 L326.2 489.6 L331.5 484.2 L327.5 475.5 L342.2 459.5 L347.6 459 L353 449.4 L365 441Z"/>
<path class="k" stroke-width="3" d="M330 629 L401 675.5 L428 692" />
<path class="k" stroke-width="1.3" d="M406 681 L427 695.5 L425.5 690.5" />
<path class="k" stroke-width="2.2" d="M505 520C502.1 523.8 493.3 535 487.5 542.5C481.7 550 475.4 558.8 470 565C464.6 571.2 458.8 575.4 455 580C451.2 584.6 448.5 586.7 447.5 592.5C446.5 598.3 449.2 607.5 448.8 615C448.4 622.5 447.7 630.4 445 637.5C442.3 644.6 435.8 652.1 432.5 657.5C429.2 662.9 426.8 666.1 425.5 670C424.2 673.9 423.8 677.7 424.5 681C425.2 684.3 429.1 688.5 430 690" />
<path class="k" stroke-width="1.7" d="M343.8 561.3 L449 618.5 M342.5 570 L447.5 627.5" />
<ellipse class="kf" stroke-width="1.6" cx="340" cy="567.5" rx="3.4" ry="5" transform="rotate(25 340 567.5)" />
<path class="k" stroke-width="1.5" d="M353 450.8 L379.7 442.7 L395.8 444 M355.6 452 L362.3 454.8 L357 470" />
<path class="k" stroke-width="2.4" d="M398.4 450C396 450.5 388 451.4 384 453C380 454.6 377.2 456.1 374.3 459.5C371.4 462.9 369.2 467.4 366.3 473.5C363.4 479.6 359.6 491.4 357 496.3C354.4 501.2 351.6 501.9 350.5 503" />
<path class="k" stroke-width="1.4" d="M413 452C411.5 452.9 407.3 454.2 403.8 457.5C400.3 460.8 398.2 465.3 392 472C385.8 478.7 370.6 493.3 366.3 497.6" />
<path class="k" stroke-width="1.7" d="M342.2 473.5 L357.5 481.5 L353.5 491.5 L331.5 484.2" />
<path class="k" stroke-width="1.4" d="M347.6 459 L340 478 M362.3 454.8 L352 478" />
<path class="k" stroke-width="1.6" d="M349 495C346.3 496.8 336.7 501.2 332.9 505.6C329.1 510.1 327.1 516.6 326.2 521.7C325.3 526.8 328.4 532 327.5 536.4C326.6 540.8 322.8 544.6 320.8 548.4C318.8 552.2 316.4 557.2 315.5 559" />
<path class="k" stroke-width="1.6" d="M355.6 507C353.8 509.4 347.2 516.6 345 521.7C342.8 526.8 342.2 532.4 342.2 537.7C342.2 543.1 344.3 549.1 345 553.8C345.7 558.5 346.1 563.8 346.3 565.8" />
<path class="k" stroke-width="1.6" d="M312.8 523 L342.2 540.4" />
<path class="k" stroke-width="1.6" d="M311 504 C304 512 302 522 305.5 530 C310 522 312 514 311 504Z" stroke="#2a0606"/>
<path class="k" stroke-width="1.4" d="M350.5 503 L358 508 L366 497.6 M372 470 L384 476.5 L380 489" />
<path class="k" stroke-width="2.6" d="M310 585 L310 612.5" />
<path class="k" stroke-width="1.5" d="M304 557.5 L312 562 L309 572 L320 566 L330 571 L322 590" />
<path class="k" stroke-width="1.4" d="M305 557C304.2 559.5 300.3 566.8 300 572C299.7 577.2 303.3 583.3 303 588C302.7 592.7 298.5 596 298 600C297.5 604 299.7 610 300 612" />
<path class="k" stroke-width="1.4" d="M346.3 565.8C344.9 569 342.1 579.3 338 585C333.9 590.7 325.3 593.8 322 600C318.7 606.2 318.7 618.3 318 622" />
<path class="k" stroke-width="1.3" d="M296 566 L306 590 L300 606" />
<ellipse class="kf" stroke-width="2" cx="460.7" cy="585" rx="5.6" ry="9.6" transform="rotate(28 460.7 585)" />
<ellipse class="kf" stroke-width="2.2" cx="492" cy="569" rx="10.5" ry="16.5" transform="rotate(28 492 569)" />
<path class="k" stroke-width="1.5" d="M479.5 576.5 L486.5 579 L483 582" />
<path class="k" stroke-width="2.2" d="M478.5 601 L484.7 603 L483 644 L457 654.6 L453.5 652.6 L461.6 627.8 Z" />
<path class="k" stroke-width="1.4" d="M480.5 606 L478.5 641 L458 651" />
<ellipse class="kf" stroke-width="2.2" cx="527.6" cy="634" rx="6.3" ry="9.8" transform="rotate(25 527.6 634)" />
<path class="k" stroke-width="2.4" d="M492.8 595.7 L497.2 592 L505.3 589.4 L508.8 593 L512.4 588.5 L517.8 611.7 L507 618.9 L501.7 631.4 L503.5 645.6 L489.2 647.4" />
<path class="k" stroke-width="1.7" d="M492.8 595.7 L489.5 647 M497 599 L515 608" />
<path class="k" stroke-width="1.6" d="M491 622.5 L501.7 627.8 M490.2 631.4 L504.4 635.8 M489.5 638.5 L503.5 642" />
<path class="k" stroke-width="2" d="M451.7 668.8 L471.4 665.3 L487.4 654.6" />
<path class="k" stroke-width="1.6" d="M466 670.6 L458.9 717 M471.4 670.6 L467 709" />
<ellipse class="k" stroke-width="1.8" cx="477" cy="673" rx="5" ry="8" transform="rotate(15 477 673)" />
<ellipse class="k" stroke-width="1.8" cx="476" cy="690" rx="5" ry="7.5" transform="rotate(15 476 690)" />
<path class="k" stroke-width="1.4" d="M483 660C484.3 661.7 489.3 666.2 491 670C492.7 673.8 493.7 679 493 683C492.3 687 488 692.2 487 694" />
<path class="k" stroke-width="2.4" d="M476 699 L478 682" />
<path class="kf" stroke-width="2" d="M436 664 L427.5 667 C423.5 672 424 681 429.5 685.5 L439 684.5" />
<ellipse class="kf" stroke-width="2" cx="442.8" cy="674" rx="7.8" ry="10.6" transform="rotate(22 442.8 674)" />
<path class="k" stroke-width="1.3" d="M437 666C436.4 667 434 669.8 433.5 672C433 674.2 433.2 677.1 434 679C434.8 680.9 437.3 682.8 438 683.5" />
<path class="kf" stroke-width="2" d="M517 514 L509 517.5 C505 523 505.5 533 511 540.5 L518.5 544" />
<ellipse class="kf" stroke-width="2" cx="520.8" cy="529.8" rx="7.2" ry="11" transform="rotate(18 520.8 529.8)" />
<path class="k" stroke-width="1.3" d="M514 518C513.4 519.2 510.9 522.3 510.5 525C510.1 527.7 510.7 531.4 511.5 534C512.3 536.6 514.8 539.4 515.5 540.5" />
</g>
<!-- 60_tube.py -->
<g id="tube">
<path class="k" stroke-width="1.6" d="M760 843 L797 863 M807.3 869.3 L814 873.3 M822 878 L830 882.5" stroke-linecap="butt"/>
<path class="kf" stroke-width="2.4" d="M567 750C567.8 748.2 569.8 742 572 739C574.2 736 575 734 580 732C585 730 593.7 728.2 602 727C610.3 725.8 622 724.7 630 725C638 725.3 643.3 726.8 650 729C656.7 731.2 664 734.2 670 738C676 741.8 682 747.3 686 752C690 756.7 690 761.7 694 766C698 770.3 704 771.7 710 778C716 784.3 723.3 795.7 730 804C736.7 812.3 742 817.5 750 828C758 838.5 768.5 853.6 778 866.7C787.5 879.8 797.5 895.2 807.3 906.7C817.1 918.2 827.8 926.7 836.7 936C845.6 945.3 854 956.2 860.7 962.7C867.4 969.2 874 972.7 876.7 974.7 L956.7 976 L975 984 L991.3 994.7 L999.5 1001.3 L996.7 1006.7 L983.3 1010.7 L943.3 1026.7 L903.3 1037.3 L887.3 1044 L884.7 1044C883.4 1045.5 879.6 1051.2 876.7 1053.3C873.8 1055.4 870 1056.5 867.3 1056.5C864.6 1056.5 864.5 1055.2 860.7 1053.3C856.9 1051.4 850.9 1048.4 844.7 1045.3C838.5 1042.2 831.3 1038.7 823.3 1034.7C815.3 1030.7 805.6 1026.6 796.7 1021.3C787.8 1016 778.9 1010.7 770 1002.7C761.1 994.7 752.8 984 743.3 973.3C733.8 962.6 720.2 946.9 712.7 938.7C705.2 930.5 703.5 930.8 698 924C692.5 917.2 686.3 907 680 898C673.7 889 666.7 878.3 660 870C653.3 861.7 646.7 856 640 848C633.3 840 626.7 830.7 620 822C613.3 813.3 606.7 803.7 600 796C593.3 788.3 585.3 781.7 580 776C574.7 770.3 570 764.3 568 762Z"/>
<path class="k" stroke-width="2.6" d="M716 782C720.3 788 733.9 807.5 742 818C750.1 828.5 754.7 832.8 764.7 845.3C774.7 857.8 790 877.5 802 893C814 908.5 830.9 930.5 836.7 938" />
<path class="k" stroke-width="1.4" d="M742 820C746.7 825 762 841.3 770 850C778 858.7 786.7 868.3 790 872" />
<path class="k" stroke-width="1.2" d="M756 838 L790 856" />
<path class="k" stroke-width="1.3" d="M606 800 L622 811 L662 804 L698 800 L704 790 L698 774" />
<path class="k" stroke-width="1.1" d="M622 811 L618 801 M662 804 L658 795" />
<path class="k" stroke-width="1.2" d="M662 804C666.7 809.3 678.7 820 690 836C701.3 852 716.7 881.5 730 900C743.3 918.5 755.3 929.6 770 946.7C784.7 963.8 806 992.9 818 1002.7C830 1012.5 838 1004.9 842 1005.3" />
<path class="k" stroke-width="1.2" d="M694 802C699.1 808.3 706.7 819 724.7 840C742.7 861 782.9 906.7 802 928C821.1 949.3 830.4 958.7 839.3 968C848.2 977.3 852.6 981.3 855.3 984" />
<path class="k" stroke-width="1.2" d="M700 800C707.2 806.7 723.6 819.5 743.3 840C763 860.5 798.4 901.4 818 922.7C837.6 944 850.9 956.9 860.7 968C870.5 979.1 874 985.8 876.7 989.3" />
<path class="k" stroke-width="1.2" d="M704 790C712.7 798 736.3 818.8 756 838C775.7 857.2 803.7 885 822 905C840.3 925 855.7 944.8 866 958C876.3 971.2 881 979.7 884 984" />
<path class="k" stroke-width="1.2" d="M770 1000C776.7 1004 798.5 1017.8 810 1024C821.5 1030.2 830.5 1032.6 839.3 1037.3C848.1 1042 859 1049.5 863 1052" />
<path class="k" stroke-width="1.1" d="M662 870 L668 868 L702 924" />
<path class="k" stroke-width="1.6" d="M850 978.7C853.5 981.4 866.8 988.9 871.3 994.7C875.8 1000.5 876.7 1006.2 876.7 1013.3C876.7 1020.4 873.5 1031.1 871.3 1037.3C869.1 1043.5 864.6 1048.5 863.3 1050.7" />
<path class="k" stroke-width="1.1" d="M842 1005.3 L860.7 992 L863.3 1010.7 L858 1032 L842 1030.7 Z" />
<path class="k" stroke-width="1" d="M842 1030.7 L839.3 1037.3 M858 1032 L863.3 1050" />
<path class="k" stroke-width="1.4" d="M878 976.5 L895.3 992 L980.7 992 L994 1000 M895.3 992 L892.7 1010 M895.3 1008 L991.3 1006.7 M884.7 1044 L892.7 1010" />
<path class="k" stroke-width="2.4" d="M876.7 974.7C878.2 977.2 883.8 983.6 886 990C888.2 996.4 890.2 1004.5 890 1013.3C889.8 1022.1 885.6 1037.8 884.7 1042.7" />
<path d="M801 988 L826 996 L825 999.5 L800.5 991.5Z" fill="#000" stroke="#000" stroke-width="1.2"/>
<path class="kf" stroke-width="2" d="M591 764.7 L591.2 764.6 L591.5 764.5 L591.7 764.4 L591.9 764.4 L592.2 764.4 L592.4 764.4 L592.7 764.5 L592.9 764.5 L593.1 764.6 L593.3 764.7 L593.6 764.9 L593.7 765 L593.9 765.2 L594.1 765.4 L594.2 765.6 L594.3 765.8 L594.4 766 L594.5 766.2 L594.6 766.5 L594.6 766.7 L594.8 768.9 L594.8 769 L595.3 772.1 L595.3 772.3 L596.2 775.3 L596.2 775.4 L597.4 778.3 L597.4 778.5 L598.8 781.2 L598.9 781.3 L600.6 783.8 L600.6 783.9 L602.6 786.2 L602.7 786.3 L604.8 788.4 L604.9 788.5 L607.2 790.2 L607.4 790.3 L609.9 791.8 L610 791.8 L612.6 793 L612.8 793 L615.6 793.9 L615.7 793.9 L618.6 794.4 L618.7 794.4 L621.6 794.6 L621.8 794.6 L624.7 794.4 L624.8 794.4 L627.8 793.8 L627.9 793.8 L630.8 792.9 L630.9 792.9 L633.8 791.7 L633.9 791.7 L636.6 790.2 L636.8 790.1 L639.4 788.3 L639.5 788.2 L641.9 786.1 L642 786.1 L644 783.9 L644.2 783.8 L644.4 783.6 L644.6 783.5 L644.8 783.4 L645.1 783.3 L645.3 783.2 L645.5 783.2 L645.8 783.2 L646 783.2 L646.3 783.2 L646.5 783.3 L646.7 783.3 L646.9 783.4 L647.2 783.6 L647.4 783.7 L647.5 783.8 L647.7 784 L647.9 784.2 L648 784.4 L648.1 784.6 L648.3 785 L648.3 785 L648.3 785.1 L649.6 786.9 L649.6 787 L649.7 787 L651.2 788.6 L651.3 788.7 L651.3 788.7 L653.1 790 L653.1 790 L653.2 790 L655.1 791 L655.2 791 L655.2 791 L657.3 791.5 L657.4 791.6 L657.4 791.6 L659.6 791.7 L659.7 791.7 L659.7 791.7 L662 791.5 L662 791.5 L662.1 791.5 L664.3 790.9 L664.3 790.8 L664.4 790.8 L666.5 789.8 L666.5 789.8 L666.6 789.8 L668.6 788.4 L668.6 788.4 L668.6 788.4 L670.4 786.7 L670.6 786.6 L672.1 784.7 L672.2 784.6 L673.5 782.5 L673.6 782.3 L674.6 780 L674.6 779.9 L675.3 777.5 L675.4 777.3 L675.7 774.9 L675.8 774.7 L675.8 772.3 L675.8 772.1 L675.4 769.7 L675.4 769.6 L675.4 769.6 L674.8 767.3 L674.7 767.2 L674.7 767.2 L673.7 765 L673.7 765 L673.7 764.9 L672.4 763.1 L672.4 763 L672.3 763 L670.8 761.4 L670.7 761.3 L670.7 761.3 L668.9 760 L668.9 760 L668.8 760 L666.9 759 L666.8 759 L666.8 759 L664.7 758.5 L664.6 758.4 L664.6 758.4 L662.4 758.3 L662.3 758.3 L662.3 758.3 L660 758.5 L660 758.5 L659.9 758.5 L657.7 759.1 L657.7 759.2 L657.6 759.2 L657 759.5 L656.7 759.6 L656.5 759.7 L656.3 759.7 L656 759.7 L655.8 759.7 L655.5 759.7 L655.3 759.7 L655.1 759.6 L654.9 759.5 L654.6 759.4 L654.4 759.3 L654.2 759.1 L654.1 758.9 L653.9 758.8 L653.8 758.6 L653.7 758.3 L653.6 758.1 L653.5 757.9 L653.4 757.7 L653.4 757.4 L653.2 755.1 L653.2 755 L652.7 751.9 L652.7 751.7 L651.8 748.7 L651.8 748.6 L650.6 745.7 L650.6 745.5 L649.2 742.8 L649.1 742.7 L647.4 740.2 L647.4 740.1 L645.4 737.8 L645.3 737.7 L643.2 735.6 L643.1 735.5 L640.8 733.8 L640.6 733.7 L638.1 732.2 L638 732.2 L635.4 731 L635.2 731 L632.4 730.1 L632.3 730.1 L629.4 729.6 L629.3 729.6 L626.4 729.4 L626.2 729.4 L623.3 729.6 L623.2 729.6 L620.2 730.2 L620.1 730.2 L617.2 731.1 L617.1 731.1 L614.2 732.3 L614.1 732.3 L611.4 733.8 L611.2 733.9 L608.6 735.7 L608.5 735.8 L606.1 737.9 L606 737.9 L603.7 740.3 L603.7 740.4 L601.6 742.9 L601.5 743 L600.6 744.4 L600.5 744.6 L600.3 744.8 L600.1 745 L599.9 745.1 L599.7 745.2 L599.5 745.3 L599.3 745.4 L599 745.5 L598.8 745.5 L598.5 745.5 L598.3 745.5 L598.1 745.5 L597.8 745.4 L597.6 745.3 L597.4 745.2 L597.1 745.1 L596.9 745 L596.8 744.8 L596.6 744.6 L596.5 744.4 L595.8 743.5 L595.8 743.4 L595.8 743.4 L594.6 742.1 L594.6 742.1 L594.5 742.1 L593.2 741.1 L593.2 741.1 L593.1 741 L591.7 740.3 L591.6 740.3 L591.6 740.3 L590 739.9 L589.9 739.9 L589.9 739.9 L588.3 739.8 L588.2 739.8 L588.1 739.8 L586.5 740 L586.4 740 L586.4 740 L584.7 740.5 L584.7 740.5 L584.6 740.5 L583 741.3 L583 741.4 L582.9 741.4 L581.4 742.4 L581.3 742.6 L579.9 743.8 L579.8 744 L578.6 745.4 L578.6 745.6 L577.6 747.2 L577.5 747.4 L576.7 749.2 L576.6 749.3 L576.1 751.2 L576.1 751.3 L575.8 753.3 L575.7 753.4 L575.7 755.3 L575.7 755.5 L575.9 757.3 L575.9 757.5 L576.4 759.3 L576.4 759.3 L576.4 759.4 L577.2 761 L577.2 761.1 L577.2 761.1 L578.2 762.5 L578.2 762.6 L578.2 762.6 L579.4 763.9 L579.4 763.9 L579.5 763.9 L580.8 764.9 L580.8 764.9 L580.9 765 L582.3 765.7 L582.4 765.7 L582.4 765.7 L584 766.1 L584.1 766.1 L584.1 766.1 L585.7 766.2 L585.8 766.2 L585.9 766.2 L587.5 766 L587.6 766 L587.6 766 L589.3 765.5 L589.3 765.5 L589.4 765.5Z"/>
<ellipse class="k" stroke-width="1.2" cx="624" cy="762" rx="25.5" ry="29.5" transform="rotate(20 624 762)" />
<ellipse class="k" stroke-width="3" cx="625" cy="763" rx="19" ry="23.5" transform="rotate(20 625 763)" />
<ellipse class="k" stroke-width="1.2" cx="625" cy="763" rx="16.5" ry="21" transform="rotate(20 625 763)" />
<ellipse class="k" stroke-width="2.6" cx="625.5" cy="763.5" rx="13.5" ry="17.5" transform="rotate(20 625.5 763.5)" />
<ellipse class="k" stroke-width="1.6" cx="587" cy="753" rx="6.2" ry="8" transform="rotate(20 587 753)" />
<ellipse class="k" stroke-width="1.4" cx="661" cy="775" rx="9.5" ry="11.5" transform="rotate(20 661 775)" />
<ellipse class="k" stroke-width="1.8" cx="661" cy="775" rx="5.5" ry="7" transform="rotate(20 661 775)" />
<path class="k" stroke-width="1.8" d="M559 726 L624 766 M624 753 L664 777" />
</g>
<g id="oring">
<path class="k" stroke-width="1.8" d="M500 690 L537 712" />
<ellipse class="k" stroke-width="2.4" cx="537.5" cy="714" rx="29" ry="31.8" transform="rotate(20 537.5 714)" />
<ellipse class="k" stroke-width="2.2" cx="537.5" cy="714" rx="22.5" ry="25.5" transform="rotate(20 537.5 714)" />
</g>
<g id="hb2">
<ellipse class="kf" stroke-width="2.3" cx="890" cy="917.5" rx="17.5" ry="20.5" transform="rotate(15 890 917.5)" />
<ellipse class="k" stroke-width="1.4" cx="887.5" cy="916.5" rx="7" ry="10" transform="rotate(-60 887.5 916.5)" />
<path class="kf" stroke-width="2" d="M884 923.5 L858 908.5 L856.5 905 L838 894.5 C834.5 892.5 832 888 833.5 884.5 C835 881 838.5 880 842 882 L860.5 892.5 L864 892 L890.5 907 C895 910.5 890 925.5 884 923.5Z"/>
<path class="k" stroke-width="1.3" d="M864 892 C860.5 895.5 858 903 858 908.5 M860.5 892.5 C857.5 896 855.5 901 856.5 905" />
<path class="k" stroke-width="1.2" d="M842 882 C844.5 885 844 891 841 895.5 M846 884.5 C848.5 887.5 848 893.5 845 898" />
<path class="k" stroke-width="1.6" d="M833 885 L828.5 882.5" />
</g>
<!-- 70_bolts.py -->
<g id="bolts">
<path class="kf" stroke-width="1.8" d="M36.5 137.8 L29.1 143.8 L25 139.4 L28.3 128.9 L35.7 122.9 L39.8 127.3Z"/><path class="kf" stroke-width="1.8" d="M43.5 141.5 L36.1 147.6 L32.1 143.2 L35.4 132.7 L42.8 126.7 L46.9 131.1Z"/><path class="k" stroke-width="1.8" d="M36.5 137.8L43.5 141.5M29.1 143.8L36.1 147.6M25 139.4L32.1 143.2M28.3 128.9L35.4 132.7M35.7 122.9L42.8 126.7M39.8 127.3L46.9 131.1" /><ellipse class="kf" stroke-width="1.8" cx="40.4" cy="137.6" rx="9.8" ry="19.5" transform="rotate(28 40.4 137.6)"/><path d="M49.5 120.4 L52.2 121.8 L33.8 156.2 L31.2 154.8Z" fill="#fdfdfb" stroke="none"/><path class="k" stroke-width="1.8" d="M49.5 120.4L52.2 121.8M31.2 154.8L33.8 156.2" /><ellipse class="kf" stroke-width="1.8" cx="43" cy="139" rx="9.8" ry="19.5" transform="rotate(28 43 139)"/><ellipse class="kf" stroke-width="1.8" cx="43" cy="139" rx="6.5" ry="13" transform="rotate(28 43 139)"/><path d="M49.1 127.5 L68.1 137.6 L55.9 160.6 L36.9 150.5Z" fill="#fdfdfb" stroke="none"/><path class="k" stroke-width="1.8" d="M49.1 127.5L68.1 137.6M36.9 150.5L55.9 160.6" /><ellipse class="kf" stroke-width="1.8" cx="62" cy="149.1" rx="6.5" ry="13" transform="rotate(28 62 149.1)"/><ellipse class="kf" stroke-width="1.8" cx="62" cy="149.1" rx="3.4" ry="6.8" transform="rotate(28 62 149.1)"/><path d="M65.2 143.1 L75.3 148.5 L68.9 160.5 L58.8 155.1Z" fill="#fdfdfb" stroke="none"/><path class="k" stroke-width="1.8" d="M65.2 143.1L75.3 148.5M58.8 155.1L68.9 160.5" /><ellipse class="kf" stroke-width="1.8" cx="72.1" cy="154.5" rx="3.4" ry="6.8" transform="rotate(28 72.1 154.5)"/><ellipse class="kf" stroke-width="1.8" cx="72.1" cy="154.5" rx="3.1" ry="6.3" transform="rotate(28 72.1 154.5)"/><path d="M75.1 148.9 L80.4 151.7 L74.5 162.9 L69.2 160.1Z" fill="#fdfdfb" stroke="none"/><path class="k" stroke-width="1.8" d="M75.1 148.9L80.4 151.7M69.2 160.1L74.5 162.9" /><ellipse class="kf" stroke-width="1.8" cx="77.4" cy="157.3" rx="3.1" ry="6.3" transform="rotate(28 77.4 157.3)"/><ellipse class="kf" stroke-width="1.8" cx="77.4" cy="157.3" rx="2.8" ry="5.6" transform="rotate(28 77.4 157.3)"/><path d="M80.1 152.4 L86.2 155.7 L81 165.5 L74.8 162.3Z" fill="#fdfdfb" stroke="none"/><path class="k" stroke-width="1.8" d="M80.1 152.4L86.2 155.7M74.8 162.3L81 165.5" /><ellipse class="kf" stroke-width="1.8" cx="83.6" cy="160.6" rx="2.8" ry="5.6" transform="rotate(28 83.6 160.6)"/>
<path class="kf" stroke-width="1.8" d="M124.5 134.8 L117.1 140.8 L113 136.4 L116.3 125.9 L123.7 119.9 L127.8 124.3Z"/><path class="kf" stroke-width="1.8" d="M131.5 138.5 L124.1 144.6 L120.1 140.2 L123.4 129.7 L130.8 123.7 L134.9 128.1Z"/><path class="k" stroke-width="1.8" d="M124.5 134.8L131.5 138.5M117.1 140.8L124.1 144.6M113 136.4L120.1 140.2M116.3 125.9L123.4 129.7M123.7 119.9L130.8 123.7M127.8 124.3L134.9 128.1" /><ellipse class="kf" stroke-width="1.8" cx="128.4" cy="134.6" rx="9.5" ry="19" transform="rotate(28 128.4 134.6)"/><path d="M137.3 117.8 L139.9 119.2 L122.1 152.8 L119.4 151.4Z" fill="#fdfdfb" stroke="none"/><path class="k" stroke-width="1.8" d="M137.3 117.8L139.9 119.2M119.4 151.4L122.1 152.8" /><ellipse class="kf" stroke-width="1.8" cx="131" cy="136" rx="9.5" ry="19" transform="rotate(28 131 136)"/><ellipse class="kf" stroke-width="1.8" cx="131" cy="136" rx="6.5" ry="13" transform="rotate(28 131 136)"/><path d="M137.1 124.5 L166.2 140 L154 163 L124.9 147.5Z" fill="#fdfdfb" stroke="none"/><path class="k" stroke-width="1.8" d="M137.1 124.5L166.2 140M124.9 147.5L154 163" /><ellipse class="kf" stroke-width="1.8" cx="160.1" cy="151.5" rx="6.5" ry="13" transform="rotate(28 160.1 151.5)"/><ellipse class="kf" stroke-width="1.8" cx="160.1" cy="151.5" rx="3.4" ry="6.8" transform="rotate(28 160.1 151.5)"/><path d="M163.3 145.5 L174.8 151.6 L168.4 163.6 L156.9 157.5Z" fill="#fdfdfb" stroke="none"/><path class="k" stroke-width="1.8" d="M163.3 145.5L174.8 151.6M156.9 157.5L168.4 163.6" /><ellipse class="kf" stroke-width="1.8" cx="171.6" cy="157.6" rx="3.4" ry="6.8" transform="rotate(28 171.6 157.6)"/><ellipse class="kf" stroke-width="1.8" cx="171.6" cy="157.6" rx="3.1" ry="6.3" transform="rotate(28 171.6 157.6)"/><path d="M174.6 152 L182.5 156.3 L176.6 167.4 L168.7 163.2Z" fill="#fdfdfb" stroke="none"/><path class="k" stroke-width="1.8" d="M174.6 152L182.5 156.3M168.7 163.2L176.6 167.4" /><ellipse class="kf" stroke-width="1.8" cx="179.6" cy="161.8" rx="3.1" ry="6.3" transform="rotate(28 179.6 161.8)"/><ellipse class="kf" stroke-width="1.8" cx="179.6" cy="161.8" rx="2.8" ry="5.6" transform="rotate(28 179.6 161.8)"/><path d="M182.2 156.9 L189.3 160.6 L184 170.5 L176.9 166.8Z" fill="#fdfdfb" stroke="none"/><path class="k" stroke-width="1.8" d="M182.2 156.9L189.3 160.6M176.9 166.8L184 170.5" /><ellipse class="kf" stroke-width="1.8" cx="186.6" cy="165.6" rx="2.8" ry="5.6" transform="rotate(28 186.6 165.6)"/>
<path class="kf" stroke-width="2" d="M17 333.3 L8 339.2 L2.4 333.5 L5.9 322 L14.9 316.1 L20.5 321.8Z"/><path class="kf" stroke-width="2" d="M27.5 339.2 L18.4 345.1 L12.9 339.4 L16.3 327.9 L25.4 322 L31 327.7Z"/><path class="k" stroke-width="2" d="M17 333.3L27.5 339.2M8 339.2L18.4 345.1M2.4 333.5L12.9 339.4M5.9 322L16.3 327.9M14.9 316.1L25.4 322M20.5 321.8L31 327.7" /><ellipse class="kf" stroke-width="2" cx="23.6" cy="334.5" rx="13.9" ry="22.5" transform="rotate(29.5 23.6 334.5)"/><path d="M34.7 315 L39.1 317.4 L16.9 356.6 L12.6 354.1Z" fill="#fdfdfb" stroke="none"/><path class="k" stroke-width="2" d="M34.7 315L39.1 317.4M12.6 354.1L16.9 356.6" /><ellipse class="kf" stroke-width="2" cx="28" cy="337" rx="13.9" ry="22.5" transform="rotate(29.5 28 337)"/><ellipse class="kf" stroke-width="2" cx="28" cy="337" rx="5.9" ry="9.5" transform="rotate(29.5 28 337)"/><path d="M32.7 328.7 L64.9 347 L55.5 363.5 L23.3 345.3Z" fill="#fdfdfb" stroke="none"/><path class="k" stroke-width="2" d="M32.7 328.7L64.9 347M23.3 345.3L55.5 363.5" /><ellipse class="kf" stroke-width="2" cx="60.2" cy="355.2" rx="5.9" ry="9.5" transform="rotate(29.5 60.2 355.2)"/><ellipse class="kf" stroke-width="2" cx="60.2" cy="355.2" rx="3.8" ry="6.2" transform="rotate(29.5 60.2 355.2)"/><path d="M63.3 349.8 L72 354.7 L65.9 365.5 L57.2 360.6Z" fill="#fdfdfb" stroke="none"/><path class="k" stroke-width="2" d="M63.3 349.8L72 354.7M57.2 360.6L65.9 365.5" /><ellipse class="kf" stroke-width="2" cx="68.9" cy="360.1" rx="3.8" ry="6.2" transform="rotate(29.5 68.9 360.1)"/><ellipse class="kf" stroke-width="2" cx="68.9" cy="360.1" rx="2.6" ry="4.2" transform="rotate(29.5 68.9 360.1)"/><path d="M71 356.5 L75.3 359 L71.2 366.3 L66.8 363.8Z" fill="#fdfdfb" stroke="none"/><path class="k" stroke-width="2" d="M71 356.5L75.3 359M66.8 363.8L71.2 366.3" /><ellipse class="kf" stroke-width="2" cx="73.3" cy="362.6" rx="2.6" ry="4.2" transform="rotate(29.5 73.3 362.6)"/>
<path class="kf" stroke-width="2.1" d="M48.2 637.5 L38.1 644.7 L33.2 638.6 L38.4 625.3 L48.5 618.1 L53.5 624.2Z"/><path class="kf" stroke-width="2.1" d="M61 645.4 L50.8 652.6 L45.9 646.5 L51.1 633.2 L61.3 626 L66.2 632.1Z"/><path class="k" stroke-width="2.1" d="M48.2 637.5L61 645.4M38.1 644.7L50.8 652.6M33.2 638.6L45.9 646.5M38.4 625.3L51.1 633.2M48.5 618.1L61.3 626M53.5 624.2L66.2 632.1" /><ellipse class="kf" stroke-width="2.1" cx="57.8" cy="640.4" rx="9.8" ry="19.5" transform="rotate(31.8 57.8 640.4)"/><path d="M68 623.8 L72.3 626.4 L51.7 659.6 L47.5 656.9Z" fill="#fdfdfb" stroke="none"/><path class="k" stroke-width="2.1" d="M68 623.8L72.3 626.4M47.5 656.9L51.7 659.6" /><ellipse class="kf" stroke-width="2.1" cx="62" cy="643" rx="9.8" ry="19.5" transform="rotate(31.8 62 643)"/><ellipse class="kf" stroke-width="2.1" cx="62" cy="643" rx="4.9" ry="9.8" transform="rotate(31.8 62 643)"/><path d="M67.2 634.7 L194.6 713.7 L184.3 730.4 L56.8 651.3Z" fill="#fdfdfb" stroke="none"/><path class="k" stroke-width="2.1" d="M67.2 634.7L194.6 713.7M56.8 651.3L184.3 730.4" /><ellipse class="kf" stroke-width="2.1" cx="189.5" cy="722" rx="4.9" ry="9.8" transform="rotate(31.8 189.5 722)"/><ellipse class="kf" stroke-width="2.1" cx="189.5" cy="722" rx="4.2" ry="8.3" transform="rotate(31.8 189.5 722)"/><path d="M193.9 715 L229.6 737.1 L220.8 751.2 L185.1 729.1Z" fill="#fdfdfb" stroke="none"/><path class="k" stroke-width="2.1" d="M193.9 715L229.6 737.1M185.1 729.1L220.8 751.2" /><ellipse class="kf" stroke-width="2.1" cx="225.2" cy="744.2" rx="4.2" ry="8.3" transform="rotate(31.8 225.2 744.2)"/><ellipse class="kf" stroke-width="2.1" cx="225.2" cy="744.2" rx="3.2" ry="6.5" transform="rotate(31.8 225.2 744.2)"/><path d="M228.6 738.7 L232.9 741.3 L226 752.3 L221.8 749.7Z" fill="#fdfdfb" stroke="none"/><path class="k" stroke-width="2.1" d="M228.6 738.7L232.9 741.3M221.8 749.7L226 752.3" /><ellipse class="kf" stroke-width="2.1" cx="229.4" cy="746.8" rx="3.2" ry="6.5" transform="rotate(31.8 229.4 746.8)"/><ellipse class="kf" stroke-width="2.1" cx="229.4" cy="746.8" rx="2.3" ry="4.6" transform="rotate(31.8 229.4 746.8)"/><path d="M231.9 742.9 L237.8 746.6 L233 754.4 L227 750.7Z" fill="#fdfdfb" stroke="none"/><path class="k" stroke-width="2.1" d="M231.9 742.9L237.8 746.6M227 750.7L233 754.4" /><ellipse class="kf" stroke-width="2.1" cx="235.4" cy="750.5" rx="2.3" ry="4.6" transform="rotate(31.8 235.4 750.5)"/>
</g>
<g id="hm1">
<path class="k" stroke-width="1.8" d="M528.5 528.5 L597 501.5 M528.5 528.5 L607 508.5" />
<ellipse class="kf" stroke-width="2" cx="605" cy="486.5" rx="6.2" ry="12.5" transform="rotate(26 605 486.5)"/><path d="M610.5 475.3 L632.1 485.8 L621.1 508.3 L599.5 497.7Z" fill="#fdfdfb" stroke="none"/><path class="k" stroke-width="2" d="M610.5 475.3L632.1 485.8M599.5 497.7L621.1 508.3" /><ellipse class="kf" stroke-width="2" cx="626.6" cy="497" rx="6.2" ry="12.5" transform="rotate(26 626.6 497)"/>
</g>
<!-- 99_watermark.py -->
<g id="watermark" style="mix-blend-mode:multiply">
<text transform="scale(0.94,1)" x="94.8 202.6 304.6 414.5 529.9 634.5 694.1 738.1" y="593" font-family="'Liberation Sans',Arial,sans-serif" font-weight="bold" font-size="187" fill="#fcdede">scuderia</text>
<text x="92" y="662" font-family="'Liberation Sans',Arial,sans-serif" font-weight="bold" font-size="50" fill="#e9e7e9" letter-spacing="63">car parts</text>
</g>
<g id="leaders" stroke="#000" stroke-width="2" fill="#000">
<line x1="48" y1="37" x2="48" y2="116"/><circle cx="48" cy="116" r="4" stroke="none"/>
<line x1="134" y1="35" x2="134" y2="114"/><circle cx="134" cy="114" r="4" stroke="none"/>
<line x1="297" y1="117" x2="297" y2="195"/><circle cx="297" cy="195" r="4" stroke="none"/>
<line x1="33" y1="232" x2="33" y2="312"/><circle cx="33" cy="312" r="4" stroke="none"/>
<line x1="482" y1="233" x2="580" y2="233"/><circle cx="482" cy="233" r="4" stroke="none"/>
<line x1="613" y1="432" x2="613" y2="468"/><circle cx="613" cy="468" r="4" stroke="none"/>
<line x1="85" y1="450" x2="85" y2="505"/><circle cx="85" cy="450" r="4" stroke="none"/>
<line x1="57" y1="662" x2="57" y2="807"/><circle cx="57" cy="662" r="4" stroke="none"/>
<line x1="405" y1="680" x2="405" y2="828"/><circle cx="405" cy="680" r="4" stroke="none"/>
<line x1="538" y1="748" x2="538" y2="892"/><circle cx="538" cy="748" r="4" stroke="none"/>
<line x1="895" y1="815" x2="895" y2="895"/><circle cx="895" cy="895" r="4" stroke="none"/>
<line x1="713" y1="937" x2="713" y2="1083"/><circle cx="713" cy="937" r="4" stroke="none"/>
</g>
<g id="labels">
<text class="lbl" x="48" y="31">HB3</text>
<text class="lbl" x="134" y="29">HB5</text>
<text class="lbl" x="297" y="112">8678</text>
<text class="lbl" x="33" y="227">HB1</text>
<text class="lbl" x="618" y="246">6A895</text>
<text class="lbl" x="613" y="427">HM1</text>
<text class="lbl" x="82" y="531">6652</text>
<text class="lbl" x="50" y="836">HB4</text>
<text class="lbl" x="402" y="854">6600</text>
<text class="lbl" x="535" y="919">6626</text>
<text class="lbl" x="895" y="810">HB2</text>
<text class="lbl" x="710" y="1112">6622</text>
</g>
</svg>
</body></html>
